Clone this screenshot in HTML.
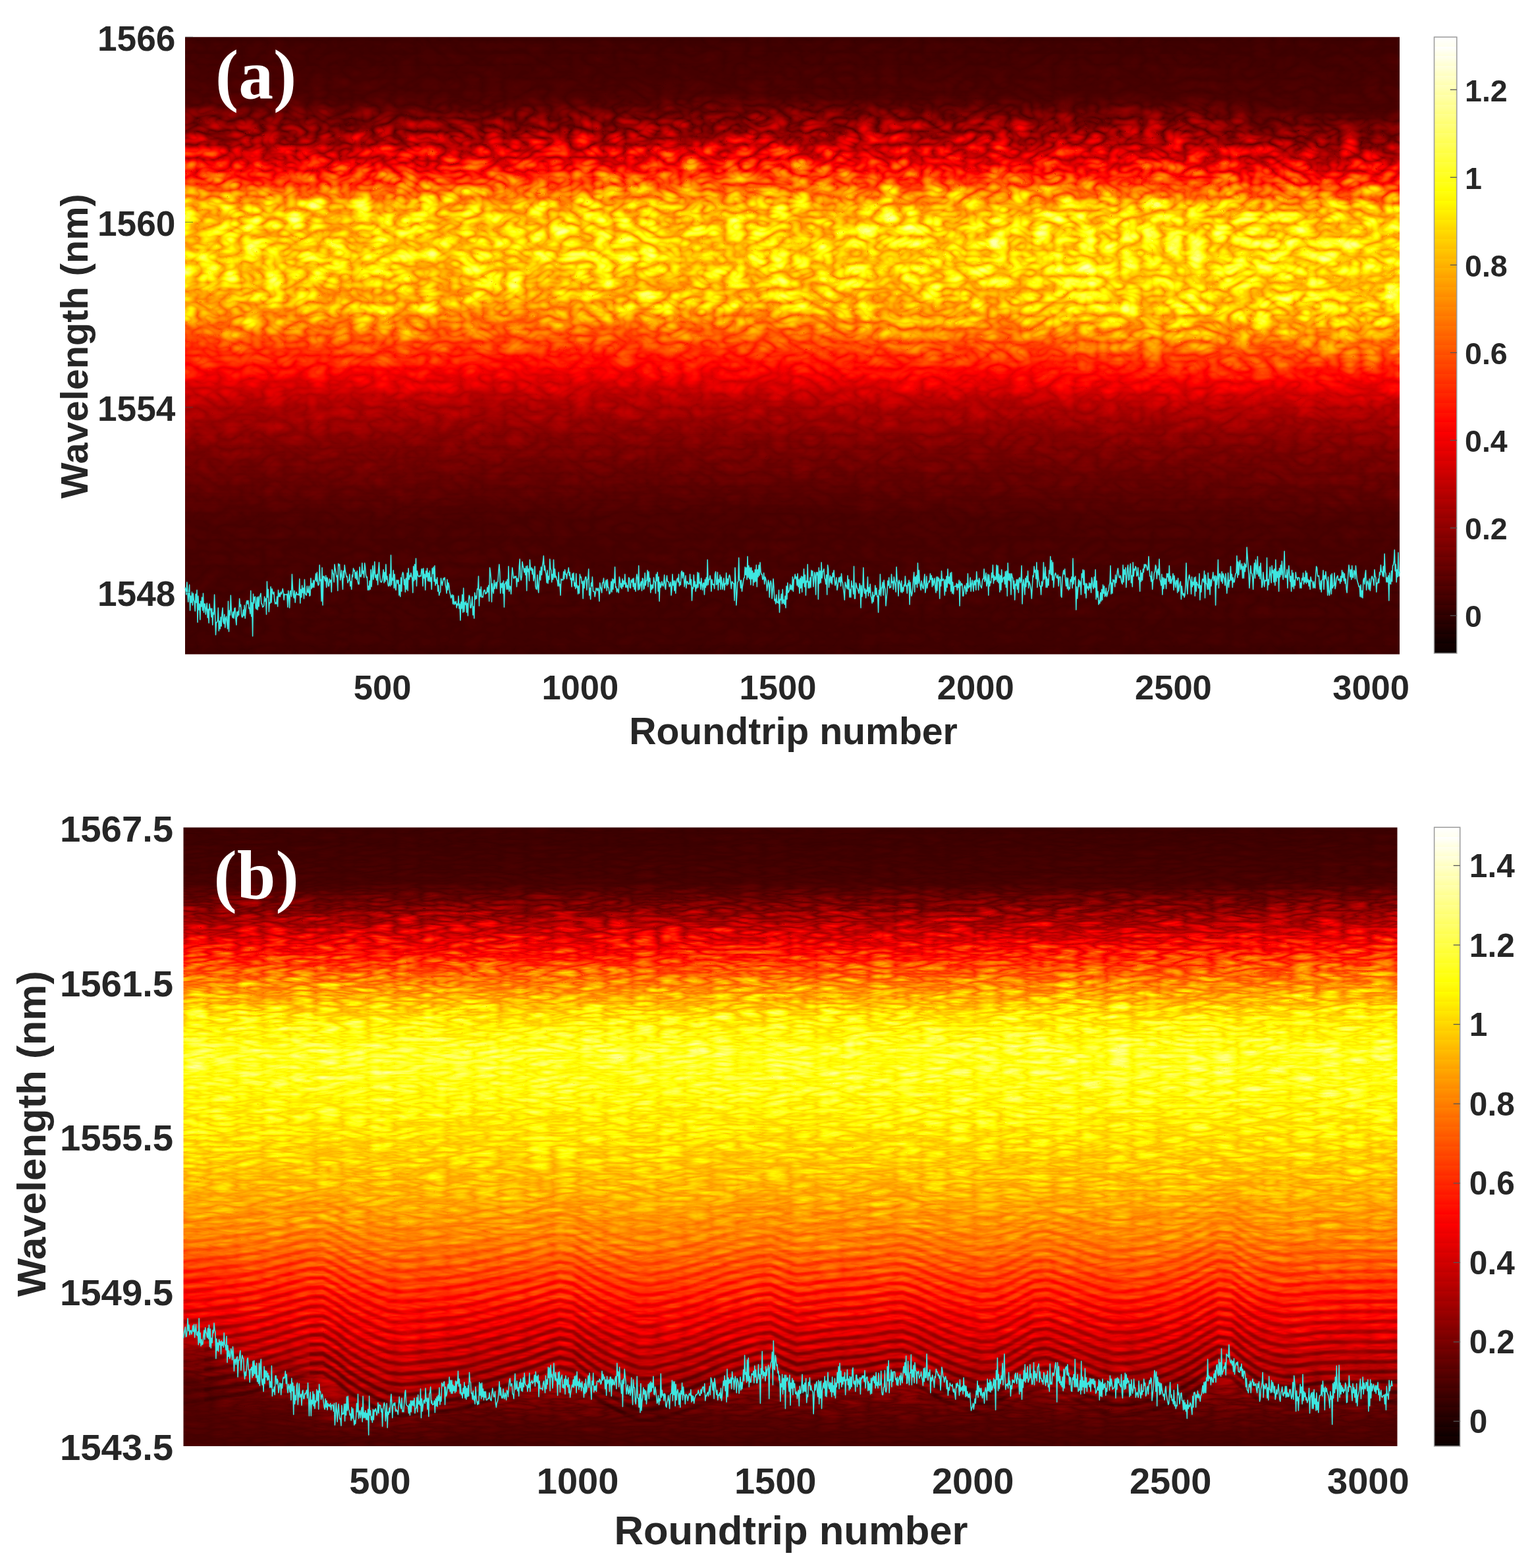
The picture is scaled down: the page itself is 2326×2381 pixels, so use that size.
<!DOCTYPE html><html><head><meta charset="utf-8"><title>Figure</title><style>html,body{margin:0;padding:0;background:#fff;}body{width:2326px;height:2381px;overflow:hidden;}svg{display:block;}</style></head><body><svg width="2326" height="2381" viewBox="0 0 2326 2381"><defs><linearGradient id="ag0" x2="0" y2="1"><stop offset="0.000" stop-color="#170300"/><stop offset="0.100" stop-color="#1c0500"/><stop offset="0.156" stop-color="#383300"/><stop offset="0.212" stop-color="#614200"/><stop offset="0.271" stop-color="#a74200"/><stop offset="0.356" stop-color="#b13d00"/><stop offset="0.441" stop-color="#a23d00"/><stop offset="0.543" stop-color="#5e1700"/><stop offset="0.598" stop-color="#410f00"/><stop offset="0.666" stop-color="#2f0a00"/><stop offset="0.783" stop-color="#1c0400"/><stop offset="1.000" stop-color="#170300"/></linearGradient><linearGradient id="ag1" x2="0" y2="1"><stop offset="0.000" stop-color="#170300"/><stop offset="0.102" stop-color="#1c0500"/><stop offset="0.157" stop-color="#383300"/><stop offset="0.212" stop-color="#614200"/><stop offset="0.273" stop-color="#a74200"/><stop offset="0.356" stop-color="#b13d00"/><stop offset="0.439" stop-color="#a23d00"/><stop offset="0.543" stop-color="#5e1700"/><stop offset="0.598" stop-color="#410f00"/><stop offset="0.666" stop-color="#2f0a00"/><stop offset="0.783" stop-color="#1c0400"/><stop offset="1.000" stop-color="#170300"/></linearGradient><linearGradient id="ag2" x2="0" y2="1"><stop offset="0.000" stop-color="#170300"/><stop offset="0.100" stop-color="#1c0500"/><stop offset="0.153" stop-color="#383300"/><stop offset="0.207" stop-color="#614200"/><stop offset="0.273" stop-color="#a74200"/><stop offset="0.353" stop-color="#b13d00"/><stop offset="0.433" stop-color="#a23d00"/><stop offset="0.538" stop-color="#5e1700"/><stop offset="0.591" stop-color="#410f00"/><stop offset="0.657" stop-color="#2f0a00"/><stop offset="0.778" stop-color="#1c0400"/><stop offset="1.000" stop-color="#170300"/></linearGradient><linearGradient id="ag3" x2="0" y2="1"><stop offset="0.000" stop-color="#170300"/><stop offset="0.095" stop-color="#1c0500"/><stop offset="0.148" stop-color="#383300"/><stop offset="0.201" stop-color="#614200"/><stop offset="0.276" stop-color="#a74200"/><stop offset="0.354" stop-color="#b13d00"/><stop offset="0.433" stop-color="#a23d00"/><stop offset="0.540" stop-color="#5e1700"/><stop offset="0.592" stop-color="#410f00"/><stop offset="0.655" stop-color="#2f0a00"/><stop offset="0.772" stop-color="#1c0400"/><stop offset="1.000" stop-color="#170300"/></linearGradient><linearGradient id="ag4" x2="0" y2="1"><stop offset="0.000" stop-color="#170300"/><stop offset="0.098" stop-color="#1c0500"/><stop offset="0.151" stop-color="#383300"/><stop offset="0.205" stop-color="#614200"/><stop offset="0.279" stop-color="#aa4200"/><stop offset="0.361" stop-color="#b43d00"/><stop offset="0.444" stop-color="#a43d00"/><stop offset="0.548" stop-color="#5e1700"/><stop offset="0.597" stop-color="#410f00"/><stop offset="0.657" stop-color="#2f0a00"/><stop offset="0.778" stop-color="#1c0400"/><stop offset="1.000" stop-color="#170300"/></linearGradient><linearGradient id="ag5" x2="0" y2="1"><stop offset="0.000" stop-color="#170300"/><stop offset="0.100" stop-color="#1c0500"/><stop offset="0.153" stop-color="#383300"/><stop offset="0.207" stop-color="#614200"/><stop offset="0.281" stop-color="#ac4200"/><stop offset="0.368" stop-color="#b63d00"/><stop offset="0.454" stop-color="#a73d00"/><stop offset="0.554" stop-color="#5e1700"/><stop offset="0.602" stop-color="#410f00"/><stop offset="0.660" stop-color="#2f0a00"/><stop offset="0.783" stop-color="#1c0400"/><stop offset="1.000" stop-color="#170300"/></linearGradient><linearGradient id="ag6" x2="0" y2="1"><stop offset="0.000" stop-color="#170300"/><stop offset="0.116" stop-color="#1c0500"/><stop offset="0.168" stop-color="#383300"/><stop offset="0.220" stop-color="#614200"/><stop offset="0.287" stop-color="#ac4200"/><stop offset="0.375" stop-color="#b63d00"/><stop offset="0.463" stop-color="#a73d00"/><stop offset="0.557" stop-color="#5e1700"/><stop offset="0.605" stop-color="#410f00"/><stop offset="0.663" stop-color="#2f0a00"/><stop offset="0.783" stop-color="#1c0400"/><stop offset="1.000" stop-color="#170300"/></linearGradient><linearGradient id="ag7" x2="0" y2="1"><stop offset="0.000" stop-color="#170300"/><stop offset="0.121" stop-color="#1c0500"/><stop offset="0.172" stop-color="#383300"/><stop offset="0.223" stop-color="#614200"/><stop offset="0.287" stop-color="#ac4200"/><stop offset="0.375" stop-color="#b63d00"/><stop offset="0.463" stop-color="#a73d00"/><stop offset="0.557" stop-color="#5e1700"/><stop offset="0.605" stop-color="#410f00"/><stop offset="0.663" stop-color="#2f0a00"/><stop offset="0.783" stop-color="#1c0400"/><stop offset="1.000" stop-color="#170300"/></linearGradient><filter id="af" filterUnits="userSpaceOnUse" x="161.0" y="56.3" width="2084.0" height="937.1" color-interpolation-filters="sRGB"><feGaussianBlur in="SourceGraphic" stdDeviation="0.6" edgeMode="duplicate" result="base"/><feColorMatrix in="base" type="matrix" values="1 0 0 0 0  1 0 0 0 0  1 0 0 0 0  0 0 0 0 1" result="V"/><feColorMatrix in="base" type="matrix" values="0 1 0 0 0  0 1 0 0 0  0 1 0 0 0  0 0 0 0 1" result="A"/><feTurbulence type="turbulence" baseFrequency="0.03 0.05" numOctaves="2" seed="5" result="n"/><feColorMatrix in="n" type="matrix" values="1.000 0 0 0 0.244  1.000 0 0 0 0.244  1.000 0 0 0 0.244  0 0 0 0 1" result="ng"/><feComposite in="A" in2="ng" operator="arithmetic" k1="1.8000" k2="-0.9000" k3="0" k4="0.5" result="t"/><feComposite in="V" in2="t" operator="arithmetic" k1="0" k2="1" k3="1" k4="-0.5" result="mod"/><feComponentTransfer in="mod"><feFuncR type="table" tableValues="0 .3333 .6667 1 1 1 1 1 1"/><feFuncG type="table" tableValues="0 0 0 0 .3333 .6667 1 1 1"/><feFuncB type="table" tableValues="0 0 0 0 0 0 0 .5 1"/></feComponentTransfer></filter><filter id="abl" filterUnits="userSpaceOnUse" x="161.0" y="56.3" width="2084.0" height="937.1" color-interpolation-filters="sRGB"><feGaussianBlur stdDeviation="30 5" edgeMode="duplicate"/></filter><clipPath id="ac"><rect x="281.0" y="56.3" width="1844.0" height="937.1"/></clipPath><linearGradient id="bg0" x2="0" y2="1"><stop offset="0.000" stop-color="#160300"/><stop offset="0.092" stop-color="#1a0500"/><stop offset="0.134" stop-color="#332400"/><stop offset="0.201" stop-color="#663300"/><stop offset="0.259" stop-color="#993300"/><stop offset="0.312" stop-color="#bb2900"/><stop offset="0.366" stop-color="#c92600"/><stop offset="0.419" stop-color="#c42400"/><stop offset="0.484" stop-color="#b82100"/><stop offset="0.576" stop-color="#a61f00"/><stop offset="0.669" stop-color="#941400"/><stop offset="0.717" stop-color="#750f00"/><stop offset="0.781" stop-color="#5e1200"/><stop offset="0.823" stop-color="#470f00"/><stop offset="0.855" stop-color="#301400"/><stop offset="0.898" stop-color="#210800"/><stop offset="1.000" stop-color="#1a0300"/></linearGradient><linearGradient id="bg1" x2="0" y2="1"><stop offset="0.000" stop-color="#160300"/><stop offset="0.092" stop-color="#1a0500"/><stop offset="0.134" stop-color="#332400"/><stop offset="0.201" stop-color="#663300"/><stop offset="0.259" stop-color="#993300"/><stop offset="0.312" stop-color="#bb2900"/><stop offset="0.366" stop-color="#c92600"/><stop offset="0.419" stop-color="#c42400"/><stop offset="0.484" stop-color="#b82100"/><stop offset="0.576" stop-color="#a61f00"/><stop offset="0.669" stop-color="#941400"/><stop offset="0.738" stop-color="#750f00"/><stop offset="0.802" stop-color="#5e1200"/><stop offset="0.855" stop-color="#4a0f00"/><stop offset="0.898" stop-color="#301400"/><stop offset="0.940" stop-color="#210800"/><stop offset="1.000" stop-color="#1a0300"/></linearGradient><linearGradient id="bg2" x2="0" y2="1"><stop offset="0.000" stop-color="#160300"/><stop offset="0.092" stop-color="#1a0500"/><stop offset="0.134" stop-color="#332400"/><stop offset="0.201" stop-color="#663300"/><stop offset="0.259" stop-color="#993300"/><stop offset="0.312" stop-color="#bb2900"/><stop offset="0.366" stop-color="#c92600"/><stop offset="0.419" stop-color="#c42400"/><stop offset="0.484" stop-color="#b82100"/><stop offset="0.576" stop-color="#a61f00"/><stop offset="0.669" stop-color="#941400"/><stop offset="0.752" stop-color="#750f00"/><stop offset="0.802" stop-color="#631200"/><stop offset="0.855" stop-color="#541200"/><stop offset="0.903" stop-color="#470f00"/><stop offset="0.946" stop-color="#2b1400"/><stop offset="0.978" stop-color="#1f0800"/><stop offset="1.000" stop-color="#1a0300"/></linearGradient><linearGradient id="bg3" x2="0" y2="1"><stop offset="0.000" stop-color="#160300"/><stop offset="0.092" stop-color="#1a0500"/><stop offset="0.134" stop-color="#332400"/><stop offset="0.201" stop-color="#663300"/><stop offset="0.259" stop-color="#993300"/><stop offset="0.312" stop-color="#bb2900"/><stop offset="0.366" stop-color="#c92600"/><stop offset="0.419" stop-color="#c42400"/><stop offset="0.484" stop-color="#b82100"/><stop offset="0.576" stop-color="#a61f00"/><stop offset="0.669" stop-color="#941400"/><stop offset="0.752" stop-color="#750f00"/><stop offset="0.791" stop-color="#631200"/><stop offset="0.834" stop-color="#541200"/><stop offset="0.882" stop-color="#470f00"/><stop offset="0.924" stop-color="#2b1400"/><stop offset="0.962" stop-color="#1f0800"/><stop offset="1.000" stop-color="#1a0300"/></linearGradient><linearGradient id="bg4" x2="0" y2="1"><stop offset="0.000" stop-color="#160300"/><stop offset="0.092" stop-color="#1a0500"/><stop offset="0.134" stop-color="#332400"/><stop offset="0.201" stop-color="#663300"/><stop offset="0.259" stop-color="#993300"/><stop offset="0.312" stop-color="#bb2900"/><stop offset="0.366" stop-color="#c92600"/><stop offset="0.419" stop-color="#c42400"/><stop offset="0.484" stop-color="#b82100"/><stop offset="0.576" stop-color="#a61f00"/><stop offset="0.669" stop-color="#941400"/><stop offset="0.752" stop-color="#750f00"/><stop offset="0.791" stop-color="#631200"/><stop offset="0.834" stop-color="#541200"/><stop offset="0.877" stop-color="#470f00"/><stop offset="0.919" stop-color="#2b1400"/><stop offset="0.962" stop-color="#1f0800"/><stop offset="1.000" stop-color="#1a0300"/></linearGradient><linearGradient id="bg5" x2="0" y2="1"><stop offset="0.000" stop-color="#160300"/><stop offset="0.092" stop-color="#1a0500"/><stop offset="0.134" stop-color="#332400"/><stop offset="0.201" stop-color="#663300"/><stop offset="0.259" stop-color="#993300"/><stop offset="0.312" stop-color="#bb2900"/><stop offset="0.366" stop-color="#c92600"/><stop offset="0.419" stop-color="#c42400"/><stop offset="0.484" stop-color="#b82100"/><stop offset="0.576" stop-color="#a61f00"/><stop offset="0.669" stop-color="#941400"/><stop offset="0.752" stop-color="#750f00"/><stop offset="0.791" stop-color="#631200"/><stop offset="0.834" stop-color="#541200"/><stop offset="0.877" stop-color="#470f00"/><stop offset="0.919" stop-color="#2b1400"/><stop offset="0.962" stop-color="#1f0800"/><stop offset="1.000" stop-color="#1a0300"/></linearGradient><linearGradient id="bg6" x2="0" y2="1"><stop offset="0.000" stop-color="#160300"/><stop offset="0.088" stop-color="#1a0500"/><stop offset="0.129" stop-color="#332400"/><stop offset="0.196" stop-color="#663300"/><stop offset="0.255" stop-color="#993300"/><stop offset="0.308" stop-color="#bb2900"/><stop offset="0.361" stop-color="#c92600"/><stop offset="0.415" stop-color="#c42400"/><stop offset="0.484" stop-color="#b82100"/><stop offset="0.576" stop-color="#a61f00"/><stop offset="0.669" stop-color="#941400"/><stop offset="0.752" stop-color="#750f00"/><stop offset="0.791" stop-color="#631200"/><stop offset="0.834" stop-color="#541200"/><stop offset="0.877" stop-color="#470f00"/><stop offset="0.919" stop-color="#2b1400"/><stop offset="0.962" stop-color="#1f0800"/><stop offset="1.000" stop-color="#1a0300"/></linearGradient><filter id="bf" filterUnits="userSpaceOnUse" x="158.5" y="1256.4" width="2083.0" height="939.6" color-interpolation-filters="sRGB"><feGaussianBlur in="SourceGraphic" stdDeviation="0.8" edgeMode="duplicate" result="base"/><feColorMatrix in="base" type="matrix" values="1 0 0 0 0  1 0 0 0 0  1 0 0 0 0  0 0 0 0 1" result="V"/><feColorMatrix in="base" type="matrix" values="0 1 0 0 0  0 1 0 0 0  0 1 0 0 0  0 0 0 0 1" result="A"/><feTurbulence type="turbulence" baseFrequency="0.025 0.12" numOctaves="2" seed="9" result="n"/><feColorMatrix in="n" type="matrix" values="1.000 0 0 0 0.244  1.000 0 0 0 0.244  1.000 0 0 0 0.244  0 0 0 0 1" result="ng"/><feComposite in="A" in2="ng" operator="arithmetic" k1="1.8000" k2="-0.9000" k3="0" k4="0.5" result="t"/><feComposite in="V" in2="t" operator="arithmetic" k1="0" k2="1" k3="1" k4="-0.5" result="mod"/><feComponentTransfer in="mod"><feFuncR type="table" tableValues="0 .3333 .6667 1 1 1 1 1 1"/><feFuncG type="table" tableValues="0 0 0 0 .3333 .6667 1 1 1"/><feFuncB type="table" tableValues="0 0 0 0 0 0 0 .5 1"/></feComponentTransfer></filter><filter id="bbl" filterUnits="userSpaceOnUse" x="158.5" y="1256.4" width="2083.0" height="939.6" color-interpolation-filters="sRGB"><feGaussianBlur stdDeviation="30 4" edgeMode="duplicate"/></filter><clipPath id="bc"><rect x="278.5" y="1256.4" width="1843.0" height="939.6"/></clipPath><linearGradient id="cbA" x1="0" y1="56.3" x2="0" y2="992.0" gradientUnits="userSpaceOnUse"><stop offset="0.0000" stop-color="#ffffff"/><stop offset="0.0156" stop-color="#ffffef"/><stop offset="0.0156" stop-color="#ffffff"/><stop offset="0.0312" stop-color="#ffffdf"/><stop offset="0.0312" stop-color="#ffffef"/><stop offset="0.0469" stop-color="#ffffcf"/><stop offset="0.0469" stop-color="#ffffdf"/><stop offset="0.0625" stop-color="#ffffbf"/><stop offset="0.0625" stop-color="#ffffcf"/><stop offset="0.0781" stop-color="#ffffaf"/><stop offset="0.0781" stop-color="#ffffbf"/><stop offset="0.0938" stop-color="#ffff9f"/><stop offset="0.0938" stop-color="#ffffaf"/><stop offset="0.1094" stop-color="#ffff8f"/><stop offset="0.1094" stop-color="#ffff9f"/><stop offset="0.1250" stop-color="#ffff80"/><stop offset="0.1250" stop-color="#ffff8f"/><stop offset="0.1406" stop-color="#ffff70"/><stop offset="0.1406" stop-color="#ffff80"/><stop offset="0.1562" stop-color="#ffff60"/><stop offset="0.1562" stop-color="#ffff70"/><stop offset="0.1719" stop-color="#ffff50"/><stop offset="0.1719" stop-color="#ffff60"/><stop offset="0.1875" stop-color="#ffff40"/><stop offset="0.1875" stop-color="#ffff50"/><stop offset="0.2031" stop-color="#ffff30"/><stop offset="0.2031" stop-color="#ffff40"/><stop offset="0.2188" stop-color="#ffff20"/><stop offset="0.2188" stop-color="#ffff30"/><stop offset="0.2344" stop-color="#ffff10"/><stop offset="0.2344" stop-color="#ffff20"/><stop offset="0.2500" stop-color="#ffff00"/><stop offset="0.2500" stop-color="#ffff10"/><stop offset="0.2656" stop-color="#fff400"/><stop offset="0.2656" stop-color="#ffff00"/><stop offset="0.2812" stop-color="#ffea00"/><stop offset="0.2812" stop-color="#fff400"/><stop offset="0.2969" stop-color="#ffdf00"/><stop offset="0.2969" stop-color="#ffea00"/><stop offset="0.3125" stop-color="#ffd400"/><stop offset="0.3125" stop-color="#ffdf00"/><stop offset="0.3281" stop-color="#ffca00"/><stop offset="0.3281" stop-color="#ffd400"/><stop offset="0.3438" stop-color="#ffbf00"/><stop offset="0.3438" stop-color="#ffca00"/><stop offset="0.3594" stop-color="#ffb500"/><stop offset="0.3594" stop-color="#ffbf00"/><stop offset="0.3750" stop-color="#ffaa00"/><stop offset="0.3750" stop-color="#ffb500"/><stop offset="0.3906" stop-color="#ff9f00"/><stop offset="0.3906" stop-color="#ffaa00"/><stop offset="0.4062" stop-color="#ff9500"/><stop offset="0.4062" stop-color="#ff9f00"/><stop offset="0.4219" stop-color="#ff8a00"/><stop offset="0.4219" stop-color="#ff9500"/><stop offset="0.4375" stop-color="#ff8000"/><stop offset="0.4375" stop-color="#ff8a00"/><stop offset="0.4531" stop-color="#ff7500"/><stop offset="0.4531" stop-color="#ff8000"/><stop offset="0.4688" stop-color="#ff6a00"/><stop offset="0.4688" stop-color="#ff7500"/><stop offset="0.4844" stop-color="#ff6000"/><stop offset="0.4844" stop-color="#ff6a00"/><stop offset="0.5000" stop-color="#ff5500"/><stop offset="0.5000" stop-color="#ff6000"/><stop offset="0.5156" stop-color="#ff4a00"/><stop offset="0.5156" stop-color="#ff5500"/><stop offset="0.5312" stop-color="#ff4000"/><stop offset="0.5312" stop-color="#ff4a00"/><stop offset="0.5469" stop-color="#ff3500"/><stop offset="0.5469" stop-color="#ff4000"/><stop offset="0.5625" stop-color="#ff2a00"/><stop offset="0.5625" stop-color="#ff3500"/><stop offset="0.5781" stop-color="#ff2000"/><stop offset="0.5781" stop-color="#ff2a00"/><stop offset="0.5938" stop-color="#ff1500"/><stop offset="0.5938" stop-color="#ff2000"/><stop offset="0.6094" stop-color="#ff0b00"/><stop offset="0.6094" stop-color="#ff1500"/><stop offset="0.6250" stop-color="#ff0000"/><stop offset="0.6250" stop-color="#ff0b00"/><stop offset="0.6406" stop-color="#f40000"/><stop offset="0.6406" stop-color="#ff0000"/><stop offset="0.6562" stop-color="#ea0000"/><stop offset="0.6562" stop-color="#f40000"/><stop offset="0.6719" stop-color="#df0000"/><stop offset="0.6719" stop-color="#ea0000"/><stop offset="0.6875" stop-color="#d40000"/><stop offset="0.6875" stop-color="#df0000"/><stop offset="0.7031" stop-color="#ca0000"/><stop offset="0.7031" stop-color="#d40000"/><stop offset="0.7188" stop-color="#bf0000"/><stop offset="0.7188" stop-color="#ca0000"/><stop offset="0.7344" stop-color="#b50000"/><stop offset="0.7344" stop-color="#bf0000"/><stop offset="0.7500" stop-color="#aa0000"/><stop offset="0.7500" stop-color="#b50000"/><stop offset="0.7656" stop-color="#9f0000"/><stop offset="0.7656" stop-color="#aa0000"/><stop offset="0.7812" stop-color="#950000"/><stop offset="0.7812" stop-color="#9f0000"/><stop offset="0.7969" stop-color="#8a0000"/><stop offset="0.7969" stop-color="#950000"/><stop offset="0.8125" stop-color="#800000"/><stop offset="0.8125" stop-color="#8a0000"/><stop offset="0.8281" stop-color="#750000"/><stop offset="0.8281" stop-color="#800000"/><stop offset="0.8438" stop-color="#6a0000"/><stop offset="0.8438" stop-color="#750000"/><stop offset="0.8594" stop-color="#600000"/><stop offset="0.8594" stop-color="#6a0000"/><stop offset="0.8750" stop-color="#550000"/><stop offset="0.8750" stop-color="#600000"/><stop offset="0.8906" stop-color="#4a0000"/><stop offset="0.8906" stop-color="#550000"/><stop offset="0.9062" stop-color="#400000"/><stop offset="0.9062" stop-color="#4a0000"/><stop offset="0.9219" stop-color="#350000"/><stop offset="0.9219" stop-color="#400000"/><stop offset="0.9375" stop-color="#2a0000"/><stop offset="0.9375" stop-color="#350000"/><stop offset="0.9531" stop-color="#200000"/><stop offset="0.9531" stop-color="#2a0000"/><stop offset="0.9688" stop-color="#150000"/><stop offset="0.9688" stop-color="#200000"/><stop offset="0.9844" stop-color="#0b0000"/><stop offset="0.9844" stop-color="#150000"/><stop offset="1.0000" stop-color="#0b0000"/></linearGradient><linearGradient id="cbB" x1="0" y1="1256.3" x2="0" y2="2196.0" gradientUnits="userSpaceOnUse"><stop offset="0.0000" stop-color="#ffffff"/><stop offset="0.0156" stop-color="#ffffef"/><stop offset="0.0156" stop-color="#ffffff"/><stop offset="0.0312" stop-color="#ffffdf"/><stop offset="0.0312" stop-color="#ffffef"/><stop offset="0.0469" stop-color="#ffffcf"/><stop offset="0.0469" stop-color="#ffffdf"/><stop offset="0.0625" stop-color="#ffffbf"/><stop offset="0.0625" stop-color="#ffffcf"/><stop offset="0.0781" stop-color="#ffffaf"/><stop offset="0.0781" stop-color="#ffffbf"/><stop offset="0.0938" stop-color="#ffff9f"/><stop offset="0.0938" stop-color="#ffffaf"/><stop offset="0.1094" stop-color="#ffff8f"/><stop offset="0.1094" stop-color="#ffff9f"/><stop offset="0.1250" stop-color="#ffff80"/><stop offset="0.1250" stop-color="#ffff8f"/><stop offset="0.1406" stop-color="#ffff70"/><stop offset="0.1406" stop-color="#ffff80"/><stop offset="0.1562" stop-color="#ffff60"/><stop offset="0.1562" stop-color="#ffff70"/><stop offset="0.1719" stop-color="#ffff50"/><stop offset="0.1719" stop-color="#ffff60"/><stop offset="0.1875" stop-color="#ffff40"/><stop offset="0.1875" stop-color="#ffff50"/><stop offset="0.2031" stop-color="#ffff30"/><stop offset="0.2031" stop-color="#ffff40"/><stop offset="0.2188" stop-color="#ffff20"/><stop offset="0.2188" stop-color="#ffff30"/><stop offset="0.2344" stop-color="#ffff10"/><stop offset="0.2344" stop-color="#ffff20"/><stop offset="0.2500" stop-color="#ffff00"/><stop offset="0.2500" stop-color="#ffff10"/><stop offset="0.2656" stop-color="#fff400"/><stop offset="0.2656" stop-color="#ffff00"/><stop offset="0.2812" stop-color="#ffea00"/><stop offset="0.2812" stop-color="#fff400"/><stop offset="0.2969" stop-color="#ffdf00"/><stop offset="0.2969" stop-color="#ffea00"/><stop offset="0.3125" stop-color="#ffd400"/><stop offset="0.3125" stop-color="#ffdf00"/><stop offset="0.3281" stop-color="#ffca00"/><stop offset="0.3281" stop-color="#ffd400"/><stop offset="0.3438" stop-color="#ffbf00"/><stop offset="0.3438" stop-color="#ffca00"/><stop offset="0.3594" stop-color="#ffb500"/><stop offset="0.3594" stop-color="#ffbf00"/><stop offset="0.3750" stop-color="#ffaa00"/><stop offset="0.3750" stop-color="#ffb500"/><stop offset="0.3906" stop-color="#ff9f00"/><stop offset="0.3906" stop-color="#ffaa00"/><stop offset="0.4062" stop-color="#ff9500"/><stop offset="0.4062" stop-color="#ff9f00"/><stop offset="0.4219" stop-color="#ff8a00"/><stop offset="0.4219" stop-color="#ff9500"/><stop offset="0.4375" stop-color="#ff8000"/><stop offset="0.4375" stop-color="#ff8a00"/><stop offset="0.4531" stop-color="#ff7500"/><stop offset="0.4531" stop-color="#ff8000"/><stop offset="0.4688" stop-color="#ff6a00"/><stop offset="0.4688" stop-color="#ff7500"/><stop offset="0.4844" stop-color="#ff6000"/><stop offset="0.4844" stop-color="#ff6a00"/><stop offset="0.5000" stop-color="#ff5500"/><stop offset="0.5000" stop-color="#ff6000"/><stop offset="0.5156" stop-color="#ff4a00"/><stop offset="0.5156" stop-color="#ff5500"/><stop offset="0.5312" stop-color="#ff4000"/><stop offset="0.5312" stop-color="#ff4a00"/><stop offset="0.5469" stop-color="#ff3500"/><stop offset="0.5469" stop-color="#ff4000"/><stop offset="0.5625" stop-color="#ff2a00"/><stop offset="0.5625" stop-color="#ff3500"/><stop offset="0.5781" stop-color="#ff2000"/><stop offset="0.5781" stop-color="#ff2a00"/><stop offset="0.5938" stop-color="#ff1500"/><stop offset="0.5938" stop-color="#ff2000"/><stop offset="0.6094" stop-color="#ff0b00"/><stop offset="0.6094" stop-color="#ff1500"/><stop offset="0.6250" stop-color="#ff0000"/><stop offset="0.6250" stop-color="#ff0b00"/><stop offset="0.6406" stop-color="#f40000"/><stop offset="0.6406" stop-color="#ff0000"/><stop offset="0.6562" stop-color="#ea0000"/><stop offset="0.6562" stop-color="#f40000"/><stop offset="0.6719" stop-color="#df0000"/><stop offset="0.6719" stop-color="#ea0000"/><stop offset="0.6875" stop-color="#d40000"/><stop offset="0.6875" stop-color="#df0000"/><stop offset="0.7031" stop-color="#ca0000"/><stop offset="0.7031" stop-color="#d40000"/><stop offset="0.7188" stop-color="#bf0000"/><stop offset="0.7188" stop-color="#ca0000"/><stop offset="0.7344" stop-color="#b50000"/><stop offset="0.7344" stop-color="#bf0000"/><stop offset="0.7500" stop-color="#aa0000"/><stop offset="0.7500" stop-color="#b50000"/><stop offset="0.7656" stop-color="#9f0000"/><stop offset="0.7656" stop-color="#aa0000"/><stop offset="0.7812" stop-color="#950000"/><stop offset="0.7812" stop-color="#9f0000"/><stop offset="0.7969" stop-color="#8a0000"/><stop offset="0.7969" stop-color="#950000"/><stop offset="0.8125" stop-color="#800000"/><stop offset="0.8125" stop-color="#8a0000"/><stop offset="0.8281" stop-color="#750000"/><stop offset="0.8281" stop-color="#800000"/><stop offset="0.8438" stop-color="#6a0000"/><stop offset="0.8438" stop-color="#750000"/><stop offset="0.8594" stop-color="#600000"/><stop offset="0.8594" stop-color="#6a0000"/><stop offset="0.8750" stop-color="#550000"/><stop offset="0.8750" stop-color="#600000"/><stop offset="0.8906" stop-color="#4a0000"/><stop offset="0.8906" stop-color="#550000"/><stop offset="0.9062" stop-color="#400000"/><stop offset="0.9062" stop-color="#4a0000"/><stop offset="0.9219" stop-color="#350000"/><stop offset="0.9219" stop-color="#400000"/><stop offset="0.9375" stop-color="#2a0000"/><stop offset="0.9375" stop-color="#350000"/><stop offset="0.9531" stop-color="#200000"/><stop offset="0.9531" stop-color="#2a0000"/><stop offset="0.9688" stop-color="#150000"/><stop offset="0.9688" stop-color="#200000"/><stop offset="0.9844" stop-color="#0b0000"/><stop offset="0.9844" stop-color="#150000"/><stop offset="1.0000" stop-color="#0b0000"/></linearGradient></defs><g clip-path="url(#ac)"><g filter="url(#af)"><g filter="url(#abl)"><rect x="161.0" y="56.3" width="266.1" height="937.1" fill="url(#ag0)"/><rect x="426.5" y="56.3" width="260.1" height="937.1" fill="url(#ag1)"/><rect x="686.0" y="56.3" width="289.6" height="937.1" fill="url(#ag2)"/><rect x="975.0" y="56.3" width="325.6" height="937.1" fill="url(#ag3)"/><rect x="1300.0" y="56.3" width="300.6" height="937.1" fill="url(#ag4)"/><rect x="1600.0" y="56.3" width="275.6" height="937.1" fill="url(#ag5)"/><rect x="1875.0" y="56.3" width="188.1" height="937.1" fill="url(#ag6)"/><rect x="2062.5" y="56.3" width="183.1" height="937.1" fill="url(#ag7)"/></g></g></g><polyline points="281,892 282,896 282.9,903 283.8,884 284.8,898 285.7,914 286.7,902 287.6,888 288.6,927 289.5,905 290.5,915 291.4,899 292.4,919 293.3,901 294.3,911 295.2,914 296.2,928 297.1,902 298.1,915 299,896 300,945 300.9,905 301.9,926 302.8,917 303.8,941 304.7,913 305.7,921 306.6,907 307.6,927 308.5,901 309.5,930 310.4,917 311.4,917 312.3,933 313.3,924 314.2,916 315.2,938 316.1,925 317.1,946 318,917 319,926 319.9,924 320.9,937 321.8,924 322.8,949 323.7,930 324.7,933 325.6,903 326.6,933 327.5,964 328.5,945 329.4,945 330.4,942 331.3,923 332.3,958 333.2,943 334.2,955 335.1,937 336.1,951 337,932 338,923 338.9,944 339.9,947 340.8,933 341.8,953 342.7,939 343.7,936 344.6,945 345.6,955 346.5,913 347.5,959 348.4,927 349.4,934 350.3,904 351.3,927 352.2,934 353.2,938 354.1,929 355.1,939 356,924 357,923 357.9,940 358.9,949 359.8,929 360.8,936 361.7,928 362.7,934 363.6,909 364.6,921 365.5,918 366.5,932 367.4,937 368.4,937 369.3,926 370.3,935 371.2,919 372.2,939 373.1,928 374.1,915 375,912 376,917 376.9,912 377.9,924 378.8,923 379.8,932 380.7,897 381.7,936 382.6,915 383.6,966 384.5,902 385.5,916 386.4,907 387.4,906 388.3,923 389.3,925 390.2,907 391.2,926 392.1,906 393.1,921 394,907 395,904 395.9,901 396.9,917 397.8,917 398.8,922 399.7,921 400.7,920 401.6,906 402.6,913 403.5,909 404.5,933 405.4,883 406.4,907 407.3,895 408.3,929 409.2,915 410.2,916 411.1,891 412.1,915 413,894 414,900 414.9,902 415.9,899 416.8,911 417.8,917 418.7,915 419.7,917 420.6,906 421.6,921 422.5,896 423.5,906 424.4,901 425.4,906 426.3,899 427.3,902 428.2,899 429.2,894 430.1,899 431.1,911 432,902 433,903 433.9,903 434.9,903 435.8,902 436.8,922 437.7,897 438.7,905 439.6,923 440.6,898 441.5,897 442.5,906 443.4,872 444.4,893 445.3,903 446.3,908 447.2,897 448.2,915 449.1,904 450.1,899 451,903 452,903 452.9,902 453.9,904 454.8,879 455.8,916 456.7,895 457.7,907 458.6,889 459.6,900 460.5,893 461.5,909 462.4,880 463.4,901 464.3,903 465.3,904 466.2,890 467.2,899 468.1,900 469.1,890 470,905 471,904 471.9,878 472.9,894 473.8,886 474.8,892 475.7,881 476.7,892 477.6,882 478.6,881 479.5,871 480.5,883 481.4,869 482.4,886 483.3,889 484.3,887 485.2,858 486.2,882 487.1,880 488.1,913 489,862 490,919 490.9,875 491.9,875 492.8,878 493.8,882 494.7,874 495.7,892 496.6,877 497.6,880 498.5,890 499.5,890 500.4,879 501.4,884 502.3,881 503.3,899 504.2,865 505.2,870 506.1,872 507.1,884 508,857 509,864 509.9,869 510.9,876 511.8,874 512.8,897 513.7,856 514.7,859 515.6,857 516.6,881 517.5,875 518.5,866 519.4,879 520.4,895 521.3,867 522.3,877 523.2,858 524.2,867 525.1,871 526.1,876 527,875 528,885 528.9,882 529.9,881 530.8,872 531.8,890 532.7,883 533.7,895 534.6,873 535.6,876 536.5,863 537.5,867 538.4,866 539.4,878 540.3,869 541.3,880 542.2,867 543.2,883 544.1,887 545.1,887 546,861 547,875 547.9,876 548.9,872 549.8,855 550.8,871 551.7,867 552.7,877 553.6,855 554.6,861 555.5,873 556.5,877 557.4,876 558.4,896 559.3,890 560.3,896 561.2,882 562.2,895 563.1,865 564.1,891 565,875 566,859 566.9,880 567.9,870 568.8,853 569.8,877 570.7,873 571.7,881 572.6,872 573.6,888 574.5,866 575.5,854 576.4,872 577.4,882 578.3,884 579.3,884 580.2,881 581.2,874 582.1,865 583.1,885 584,869 585,883 585.9,857 586.9,880 587.8,875 588.8,886 589.7,890 590.7,889 591.6,872 592.6,890 593.5,843 594.5,888 595.4,878 596.4,881 597.3,866 598.3,893 599.2,872 600.2,892 601.1,896 602.1,881 603,881 604,886 604.9,881 605.9,904 606.8,888 607.8,906 608.7,877 609.7,898 610.6,873 611.6,869 612.5,872 613.5,888 614.4,880 615.4,899 616.3,878 617.3,895 618.2,870 619.2,897 620.1,863 621.1,880 622,874 623,876 623.9,870 624.9,875 625.8,878 626.8,900 627.7,860 628.7,882 629.6,857 630.6,880 631.5,848 632.5,890 633.4,867 634.4,873 635.3,875 636.3,876 637.2,874 638.2,875 639.1,875 640.1,864 641,864 642,890 642.9,863 643.9,878 644.8,872 645.8,896 646.7,867 647.7,876 648.6,863 649.6,882 650.5,870 651.5,883 652.4,867 653.4,883 654.3,877 655.3,895 656.2,863 657.2,871 658.1,861 659.1,883 660,859 661,889 661.9,880 662.9,886 663.8,877 664.8,898 665.7,889 666.7,904 667.6,900 668.6,899 669.5,878 670.5,884 671.4,889 672.4,883 673.3,878 674.3,880 675.2,877 676.2,888 677.1,892 678.1,901 679,880 680,896 680.9,885 681.9,890 682.8,899 683.8,903 684.7,908 685.7,905 686.6,903 687.6,917 688.5,904 689.5,918 690.4,914 691.4,917 692.3,913 693.3,923 694.2,917 695.2,919 696.1,905 697.1,924 698,917 699,942 699.9,914 700.9,924 701.8,903 702.8,930 703.7,893 704.7,929 705.6,915 706.6,918 707.5,913 708.5,930 709.4,916 710.4,935 711.3,911 712.3,904 713.2,906 714.2,923 715.1,923 716.1,916 717,906 718,934 718.9,921 719.9,939 720.8,900 721.8,910 722.7,905 723.7,909 724.6,894 725.6,895 726.5,875 727.5,920 728.4,895 729.4,906 730.3,891 731.3,907 732.2,906 733.2,907 734.1,899 735.1,896 736,896 737,902 737.9,900 738.9,901 739.8,892 740.8,899 741.7,889 742.7,913 743.6,862 744.6,869 745.5,879 746.5,914 747.4,886 748.4,896 749.3,901 750.3,881 751.2,894 752.2,888 753.1,884 754.1,894 755,884 756,883 756.9,868 757.9,857 758.8,868 759.8,901 760.7,886 761.7,892 762.6,885 763.6,901 764.5,882 765.5,922 766.4,887 767.4,886 768.3,883 769.3,895 770.2,880 771.2,895 772.1,860 773.1,898 774,890 775,891 775.9,902 776.9,879 777.8,862 778.8,870 779.7,878 780.7,878 781.6,875 782.6,877 783.5,875 784.5,891 785.4,878 786.4,883 787.3,883 788.3,860 789.2,849 790.2,875 791.1,881 792.1,875 793,853 794,859 794.9,863 795.9,869 796.8,863 797.8,873 798.7,860 799.7,897 800.6,859 801.6,868 802.5,864 803.5,882 804.4,850 805.4,863 806.3,866 807.3,862 808.2,872 809.2,864 810.1,882 811.1,876 812,860 813,890 813.9,894 814.9,895 815.8,873 816.8,893 817.7,900 818.7,880 819.6,867 820.6,881 821.5,861 822.5,873 823.4,860 824.4,854 825.3,844 826.3,866 827.2,859 828.2,868 829.1,872 830.1,885 831,866 832,886 832.9,875 833.9,880 834.8,849 835.8,863 836.7,866 837.7,884 838.6,872 839.6,880 840.5,850 841.5,877 842.4,864 843.4,877 844.3,875 845.3,880 846.2,882 847.2,890 848.1,869 849.1,890 850,887 851,904 851.9,879 852.9,881 853.8,880 854.8,881 855.7,868 856.7,879 857.6,865 858.6,872 859.5,872 860.5,879 861.4,870 862.4,869 863.3,862 864.3,874 865.2,869 866.2,880 867.1,878 868.1,891 869,871 870,881 870.9,870 871.9,890 872.8,885 873.8,894 874.7,871 875.7,892 876.6,889 877.6,902 878.5,890 879.5,901 880.4,872 881.4,877 882.3,876 883.3,886 884.2,883 885.2,909 886.1,882 887.1,893 888,881 889,876 889.9,876 890.9,896 891.8,880 892.8,879 893.7,864 894.7,904 895.6,893 896.6,910 897.5,885 898.5,890 899.4,876 900.4,898 901.3,898 902.3,898 903.2,906 904.2,900 905.1,893 906.1,894 907,897 908,893 908.9,896 909.9,913 910.8,885 911.8,891 912.7,895 913.7,900 914.6,885 915.6,885 916.5,878 917.5,893 918.4,893 919.4,884 920.3,881 921.3,897 922.2,880 923.2,892 924.1,892 925.1,902 926,901 927,897 927.9,883 928.9,899 929.8,879 930.8,895 931.7,880 932.7,885 933.6,861 934.6,892 935.5,891 936.5,899 937.4,894 938.4,897 939.3,900 940.3,876 941.2,880 942.2,892 943.1,886 944.1,894 945,879 946,891 946.9,882 947.9,887 948.8,872 949.8,892 950.7,885 951.7,892 952.6,889 953.6,898 954.5,877 955.5,878 956.4,892 957.4,893 958.3,881 959.3,884 960.2,879 961.2,891 962.1,878 963.1,895 964,886 965,898 965.9,880 966.9,872 967.8,878 968.8,896 969.7,859 970.7,895 971.6,891 972.6,886 973.5,883 974.5,897 975.4,878 976.4,879 977.3,895 978.3,893 979.2,870 980.2,889 981.1,882 982.1,881 983,866 984,891 984.9,868 985.9,883 986.8,878 987.8,900 988.7,888 989.7,895 990.6,888 991.6,893 992.5,877 993.5,883 994.4,884 995.4,901 996.3,872 997.3,882 998.2,869 999.2,898 1000.1,876 1001.1,913 1002,884 1003,892 1003.9,889 1004.9,883 1005.8,888 1006.8,890 1007.7,885 1008.7,873 1009.6,891 1010.6,895 1011.5,882 1012.5,874 1013.4,883 1014.4,883 1015.3,884 1016.3,891 1017.2,889 1018.2,884 1019.1,904 1020.1,894 1021,872 1022,889 1022.9,882 1023.9,897 1024.8,882 1025.8,901 1026.7,885 1027.7,880 1028.6,878 1029.6,884 1030.5,872 1031.5,890 1032.4,884 1033.4,888 1034.3,869 1035.3,867 1036.2,878 1037.2,869 1038.1,870 1039.1,891 1040,884 1041,874 1041.9,893 1042.9,883 1043.8,883 1044.8,887 1045.7,886 1046.7,887 1047.6,872 1048.6,888 1049.5,880 1050.5,912 1051.4,892 1052.4,894 1053.3,873 1054.3,891 1055.2,883 1056.2,898 1057.1,888 1058.1,893 1059,869 1060,892 1060.9,870 1061.9,886 1062.8,884 1063.8,895 1064.7,878 1065.7,888 1066.6,896 1067.6,886 1068.5,885 1069.5,903 1070.4,880 1071.4,892 1072.3,877 1073.3,889 1074.2,850 1075.2,888 1076.1,880 1077.1,880 1078,874 1079,880 1079.9,898 1080.9,880 1081.8,887 1082.8,888 1083.7,887 1084.7,894 1085.6,872 1086.6,868 1087.5,888 1088.5,887 1089.4,869 1090.4,896 1091.3,880 1092.3,884 1093.2,873 1094.2,895 1095.1,876 1096.1,885 1097,895 1098,887 1098.9,878 1099.9,896 1100.8,886 1101.8,887 1102.7,870 1103.7,889 1104.6,879 1105.6,887 1106.5,876 1107.5,873 1108.4,876 1109.4,885 1110.3,894 1111.3,883 1112.2,884 1113.2,886 1114.1,886 1115.1,912 1116,862 1117,882 1117.9,919 1118.9,903 1119.8,884 1120.8,883 1121.7,847 1122.7,881 1123.6,881 1124.6,893 1125.5,881 1126.5,898 1127.4,890 1128.4,884 1129.3,878 1130.3,877 1131.2,861 1132.2,873 1133.1,862 1134.1,880 1135,845 1136,877 1136.9,859 1137.9,879 1138.8,862 1139.8,888 1140.7,862 1141.7,879 1142.6,867 1143.6,889 1144.5,870 1145.5,884 1146.4,865 1147.4,883 1148.3,858 1149.3,891 1150.2,865 1151.2,876 1152.1,858 1153.1,874 1154,854 1155,868 1155.9,872 1156.9,872 1157.8,880 1158.8,879 1159.7,870 1160.7,887 1161.6,876 1162.6,879 1163.5,883 1164.5,897 1165.4,891 1166.4,881 1167.3,885 1168.3,907 1169.2,887 1170.2,882 1171.1,887 1172.1,909 1173,897 1174,879 1174.9,891 1175.9,912 1176.8,910 1177.8,917 1178.7,903 1179.7,915 1180.6,914 1181.6,916 1182.5,896 1183.5,930 1184.4,910 1185.4,911 1186.3,902 1187.3,917 1188.2,895 1189.2,916 1190.1,911 1191.1,918 1192,905 1193,923 1193.9,890 1194.9,910 1195.8,885 1196.8,900 1197.7,898 1198.7,896 1199.6,887 1200.6,895 1201.5,889 1202.5,896 1203.4,876 1204.4,898 1205.3,880 1206.3,878 1207.2,872 1208.2,879 1209.1,876 1210.1,889 1211,871 1212,891 1212.9,880 1213.9,901 1214.8,878 1215.8,893 1216.7,875 1217.7,899 1218.6,876 1219.6,885 1220.5,864 1221.5,891 1222.4,873 1223.4,904 1224.3,882 1225.3,884 1226.2,857 1227.2,893 1228.1,883 1229.1,893 1230,877 1231,892 1231.9,866 1232.9,874 1233.8,867 1234.8,891 1235.7,882 1236.7,869 1237.6,873 1238.6,903 1239.5,869 1240.5,873 1241.4,869 1242.4,910 1243.3,862 1244.3,886 1245.2,867 1246.2,885 1247.1,854 1248.1,878 1249,868 1250,867 1250.9,864 1251.9,878 1252.8,880 1253.8,887 1254.7,873 1255.7,903 1256.6,858 1257.6,864 1258.5,892 1259.5,881 1260.4,874 1261.4,885 1262.3,876 1263.3,887 1264.2,870 1265.2,876 1266.1,866 1267.1,880 1268,889 1269,884 1269.9,877 1270.9,896 1271.8,892 1272.8,883 1273.7,877 1274.7,884 1275.6,876 1276.6,890 1277.5,871 1278.5,883 1279.4,885 1280.4,894 1281.3,900 1282.3,911 1283.2,884 1284.2,888 1285.1,891 1286.1,894 1287,874 1288,895 1288.9,880 1289.9,907 1290.8,895 1291.8,907 1292.7,882 1293.7,891 1294.6,890 1295.6,902 1296.5,860 1297.5,909 1298.4,909 1299.4,885 1300.3,888 1301.3,893 1302.2,894 1303.2,898 1304.1,901 1305.1,886 1306,890 1307,923 1307.9,889 1308.9,906 1309.8,898 1310.8,862 1311.7,892 1312.7,901 1313.6,894 1314.6,908 1315.5,896 1316.5,898 1317.4,876 1318.4,905 1319.3,892 1320.3,900 1321.2,887 1322.2,905 1323.1,908 1324.1,916 1325,899 1326,914 1326.9,904 1327.9,905 1328.8,889 1329.8,903 1330.7,893 1331.7,906 1332.6,905 1333.6,930 1334.5,896 1335.5,903 1336.4,872 1337.4,905 1338.3,894 1339.3,891 1340.2,884 1341.2,904 1342.1,881 1343.1,891 1344,895 1345,920 1345.9,909 1346.9,899 1347.8,882 1348.8,889 1349.7,877 1350.7,893 1351.6,891 1352.6,892 1353.5,872 1354.5,885 1355.4,883 1356.4,895 1357.3,876 1358.3,883 1359.2,889 1360.2,899 1361.1,861 1362.1,882 1363,884 1364,905 1364.9,881 1365.9,884 1366.8,887 1367.8,899 1368.7,882 1369.7,900 1370.6,892 1371.6,898 1372.5,888 1373.5,890 1374.4,875 1375.4,890 1376.3,889 1377.3,901 1378.2,886 1379.2,889 1380.1,881 1381.1,918 1382,884 1383,897 1383.9,905 1384.9,901 1385.8,893 1386.8,878 1387.7,869 1388.7,899 1389.6,876 1390.6,887 1391.5,874 1392.5,892 1393.4,855 1394.4,886 1395.3,866 1396.3,883 1397.2,889 1398.2,896 1399.1,882 1400.1,888 1401,893 1402,894 1402.9,881 1403.9,872 1404.8,900 1405.8,893 1406.7,875 1407.7,893 1408.6,887 1409.6,885 1410.5,882 1411.5,884 1412.4,871 1413.4,880 1414.3,874 1415.3,891 1416.2,878 1417.2,889 1418.1,883 1419.1,878 1420,893 1421,900 1421.9,876 1422.9,897 1423.8,876 1424.8,882 1425.7,878 1426.7,909 1427.6,880 1428.6,890 1429.5,867 1430.5,882 1431.4,881 1432.4,879 1433.3,882 1434.3,904 1435.2,880 1436.2,898 1437.1,875 1438.1,892 1439,864 1440,886 1440.9,876 1441.9,887 1442.8,870 1443.8,898 1444.7,869 1445.7,901 1446.6,884 1447.6,902 1448.5,891 1449.5,890 1450.4,890 1451.4,891 1452.3,886 1453.3,896 1454.2,887 1455.2,892 1456.1,881 1457.1,920 1458,883 1459,889 1459.9,886 1460.9,887 1461.8,905 1462.8,905 1463.7,893 1464.7,889 1465.6,893 1466.6,902 1467.5,886 1468.5,898 1469.4,871 1470.4,893 1471.3,890 1472.3,891 1473.2,877 1474.2,898 1475.1,888 1476.1,881 1477,887 1478,898 1478.9,882 1479.9,888 1480.8,881 1481.8,896 1482.7,868 1483.7,883 1484.6,881 1485.6,896 1486.5,878 1487.5,882 1488.4,889 1489.4,891 1490.3,893 1491.3,883 1492.2,879 1493.2,879 1494.1,864 1495.1,883 1496,880 1497,870 1497.9,890 1498.9,884 1499.8,872 1500.8,904 1501.7,873 1502.7,890 1503.6,883 1504.6,885 1505.5,870 1506.5,877 1507.4,858 1508.4,886 1509.3,874 1510.3,881 1511.2,876 1512.2,880 1513.1,858 1514.1,883 1515,859 1516,885 1516.9,872 1517.9,899 1518.8,874 1519.8,896 1520.7,865 1521.7,884 1522.6,880 1523.6,877 1524.5,876 1525.5,887 1526.4,868 1527.4,892 1528.3,867 1529.3,905 1530.2,855 1531.2,881 1532.1,871 1533.1,882 1534,871 1535,903 1535.9,871 1536.9,876 1537.8,878 1538.8,894 1539.7,882 1540.7,911 1541.6,887 1542.6,889 1543.5,880 1544.5,895 1545.4,880 1546.4,900 1547.3,878 1548.3,877 1549.2,885 1550.2,881 1551.1,859 1552.1,917 1553,890 1554,880 1554.9,889 1555.9,903 1556.8,878 1557.8,891 1558.7,875 1559.7,884 1560.6,867 1561.6,893 1562.5,883 1563.5,886 1564.4,890 1565.4,896 1566.3,909 1567.3,890 1568.2,874 1569.2,876 1570.1,860 1571.1,869 1572,866 1573,879 1573.9,854 1574.9,892 1575.8,866 1576.8,878 1577.7,884 1578.7,890 1579.6,890 1580.6,903 1581.5,883 1582.5,890 1583.4,884 1584.4,854 1585.3,880 1586.3,877 1587.2,861 1588.2,892 1589.1,876 1590.1,892 1591,879 1592,889 1592.9,866 1593.9,871 1594.8,845 1595.8,873 1596.7,851 1597.7,881 1598.6,854 1599.6,892 1600.5,880 1601.5,873 1602.4,870 1603.4,873 1604.3,877 1605.3,878 1606.2,873 1607.2,890 1608.1,876 1609.1,876 1610,876 1611,905 1611.9,907 1612.9,879 1613.8,872 1614.8,866 1615.7,872 1616.7,864 1617.6,881 1618.6,890 1619.5,877 1620.5,894 1621.4,878 1622.4,896 1623.3,892 1624.3,894 1625.2,880 1626.2,883 1627.1,876 1628.1,893 1629,848 1630,887 1630.9,877 1631.9,880 1632.8,875 1633.8,926 1634.7,891 1635.7,909 1636.6,895 1637.6,880 1638.5,891 1639.5,882 1640.4,885 1641.4,903 1642.3,871 1643.3,877 1644.2,865 1645.2,888 1646.1,866 1647.1,901 1648,886 1649,908 1649.9,886 1650.9,893 1651.8,891 1652.8,896 1653.7,885 1654.7,893 1655.6,886 1656.6,900 1657.5,877 1658.5,883 1659.4,891 1660.4,894 1661.3,876 1662.3,892 1663.2,865 1664.2,910 1665.1,882 1666.1,907 1667,898 1668,918 1668.9,912 1669.9,916 1670.8,900 1671.8,913 1672.7,895 1673.7,911 1674.6,888 1675.6,901 1676.5,890 1677.5,906 1678.4,904 1679.4,893 1680.3,906 1681.3,903 1682.2,898 1683.2,897 1684.1,889 1685.1,885 1686,859 1687,902 1687.9,885 1688.9,901 1689.8,880 1690.8,883 1691.7,881 1692.7,891 1693.6,873 1694.6,885 1695.5,878 1696.5,867 1697.4,863 1698.4,872 1699.3,877 1700.3,877 1701.2,874 1702.2,880 1703.1,885 1704.1,887 1705,858 1706,884 1706.9,865 1707.9,872 1708.8,862 1709.8,892 1710.7,879 1711.7,863 1712.6,858 1713.6,881 1714.5,880 1715.5,863 1716.4,856 1717.4,885 1718.3,874 1719.3,891 1720.2,854 1721.2,875 1722.1,864 1723.1,866 1724,860 1725,862 1725.9,875 1726.9,873 1727.8,862 1728.8,880 1729.7,877 1730.7,898 1731.6,866 1732.6,883 1733.5,870 1734.5,881 1735.4,864 1736.4,869 1737.3,857 1738.3,862 1739.2,857 1740.2,858 1741.1,861 1742.1,866 1743,865 1744,845 1744.9,863 1745.9,875 1746.8,875 1747.8,883 1748.7,868 1749.7,895 1750.6,881 1751.6,880 1752.5,870 1753.5,868 1754.4,858 1755.4,861 1756.3,879 1757.3,868 1758.2,864 1759.2,873 1760.1,849 1761.1,880 1762,883 1763,889 1763.9,872 1764.9,903 1765.8,877 1766.8,894 1767.7,878 1768.7,887 1769.6,879 1770.6,894 1771.5,871 1772.5,876 1773.4,871 1774.4,883 1775.3,859 1776.3,886 1777.2,875 1778.2,886 1779.1,881 1780.1,878 1781,871 1782,896 1782.9,874 1783.9,885 1784.8,892 1785.8,882 1786.7,881 1787.7,900 1788.6,878 1789.6,898 1790.5,892 1791.5,886 1792.4,883 1793.4,910 1794.3,890 1795.3,901 1796.2,904 1797.2,901 1798.1,907 1799.1,903 1800,888 1801,855 1801.9,887 1802.9,902 1803.8,884 1804.8,877 1805.7,873 1806.7,879 1807.6,883 1808.6,902 1809.5,876 1810.5,891 1811.4,884 1812.4,888 1813.3,877 1814.3,905 1815.2,876 1816.2,898 1817.1,884 1818.1,888 1819,888 1820,893 1820.9,871 1821.9,911 1822.8,889 1823.8,899 1824.7,886 1825.7,879 1826.6,880 1827.6,884 1828.5,867 1829.5,908 1830.4,873 1831.4,886 1832.3,887 1833.3,895 1834.2,870 1835.2,895 1836.1,879 1837.1,903 1838,880 1839,890 1839.9,881 1840.9,877 1841.8,869 1842.8,882 1843.7,877 1844.7,874 1845.6,919 1846.6,875 1847.5,888 1848.5,878 1849.4,850 1850.4,893 1851.3,872 1852.3,871 1853.2,876 1854.2,883 1855.1,868 1856.1,886 1857,871 1858,875 1858.9,879 1859.9,889 1860.8,871 1861.8,884 1862.7,901 1863.7,888 1864.6,870 1865.6,892 1866.5,881 1867.5,882 1868.4,860 1869.4,881 1870.3,872 1871.3,892 1872.2,877 1873.2,884 1874.1,884 1875.1,876 1876,871 1877,870 1877.9,844 1878.9,877 1879.8,853 1880.8,873 1881.7,855 1882.7,851 1883.6,865 1884.6,861 1885.5,856 1886.5,878 1887.4,860 1888.4,878 1889.3,855 1890.3,868 1891.2,857 1892.2,861 1893.1,831 1894.1,846 1895,860 1896,873 1896.9,893 1897.9,877 1898.8,859 1899.8,870 1900.7,871 1901.7,877 1902.6,895 1903.6,869 1904.5,855 1905.5,878 1906.4,850 1907.4,862 1908.3,872 1909.3,845 1910.2,870 1911.2,875 1912.1,860 1913.1,879 1914,855 1915,874 1915.9,892 1916.9,888 1917.8,869 1918.8,879 1919.7,891 1920.7,881 1921.6,882 1922.6,882 1923.5,847 1924.5,896 1925.4,880 1926.4,888 1927.3,874 1928.3,861 1929.2,875 1930.2,885 1931.1,859 1932.1,870 1933,866 1934,884 1934.9,864 1935.9,889 1936.8,850 1937.8,883 1938.7,868 1939.7,877 1940.6,867 1941.6,898 1942.5,863 1943.5,876 1944.4,858 1945.4,873 1946.3,852 1947.3,871 1948.2,880 1949.2,861 1950.1,837 1951.1,877 1952,874 1953,877 1953.9,865 1954.9,893 1955.8,871 1956.8,859 1957.7,871 1958.7,883 1959.6,875 1960.6,898 1961.5,866 1962.5,891 1963.4,870 1964.4,894 1965.3,881 1966.3,889 1967.2,869 1968.2,877 1969.1,877 1970.1,881 1971,877 1972,877 1972.9,878 1973.9,893 1974.8,885 1975.8,893 1976.7,878 1977.7,881 1978.6,870 1979.6,887 1980.5,877 1981.5,884 1982.4,867 1983.4,886 1984.3,870 1985.3,884 1986.2,880 1987.2,890 1988.1,881 1989.1,895 1990,876 1991,882 1991.9,882 1992.9,885 1993.8,893 1994.8,883 1995.7,892 1996.7,893 1997.6,873 1998.6,860 1999.5,862 2000.5,875 2001.4,875 2002.4,874 2003.3,887 2004.3,895 2005.2,882 2006.2,899 2007.1,881 2008.1,880 2009,866 2010,895 2010.9,874 2011.9,879 2012.8,868 2013.8,879 2014.7,883 2015.7,904 2016.6,876 2017.6,899 2018.5,904 2019.5,895 2020.4,873 2021.4,902 2022.3,871 2023.3,893 2024.2,890 2025.2,889 2026.1,870 2027.1,894 2028,889 2029,879 2029.9,876 2030.9,874 2031.8,881 2032.8,881 2033.7,879 2034.7,886 2035.6,875 2036.6,883 2037.5,866 2038.5,877 2039.4,869 2040.4,882 2041.3,871 2042.3,886 2043.2,879 2044.2,895 2045.1,900 2046.1,884 2047,870 2048,858 2048.9,866 2049.9,876 2050.8,865 2051.8,880 2052.7,859 2053.7,877 2054.6,877 2055.6,866 2056.5,868 2057.5,879 2058.4,859 2059.4,871 2060.3,880 2061.3,884 2062.2,887 2063.2,891 2064.1,890 2065.1,906 2066,888 2067,907 2067.9,897 2068.9,908 2069.8,881 2070.8,878 2071.7,887 2072.7,872 2073.6,866 2074.6,896 2075.5,885 2076.5,882 2077.4,887 2078.4,895 2079.3,879 2080.3,897 2081.2,887 2082.2,878 2083.1,875 2084.1,878 2085,881 2086,889 2086.9,865 2087.9,875 2088.8,877 2089.8,899 2090.7,885 2091.7,886 2092.6,879 2093.6,885 2094.5,869 2095.5,873 2096.4,858 2097.4,868 2098.3,868 2099.3,875 2100.2,860 2101.2,876 2102.1,841 2103.1,868 2104,871 2105,884 2105.9,877 2106.9,884 2107.8,874 2108.8,912 2109.7,870 2110.7,886 2111.6,887 2112.6,867 2113.5,883 2114.5,859 2115.4,858 2116.4,852 2117.3,835 2118.3,867 2119.2,857 2120.2,884 2121.1,865 2122.1,876 2123,839 2124,875 2124.9,868" fill="none" stroke="#3ee6e0" stroke-width="1.60" stroke-linejoin="round"/><g clip-path="url(#bc)"><g filter="url(#bf)"><g filter="url(#bbl)"><rect x="158.5" y="1256.4" width="181.1" height="939.6" fill="url(#bg0)"/><rect x="339.0" y="1256.4" width="141.6" height="939.6" fill="url(#bg1)"/><rect x="480.0" y="1256.4" width="200.6" height="939.6" fill="url(#bg2)"/><rect x="680.0" y="1256.4" width="370.6" height="939.6" fill="url(#bg3)"/><rect x="1050.0" y="1256.4" width="450.6" height="939.6" fill="url(#bg4)"/><rect x="1500.0" y="1256.4" width="411.6" height="939.6" fill="url(#bg5)"/><rect x="1911.0" y="1256.4" width="331.1" height="939.6" fill="url(#bg6)"/></g><g fill="none" stroke="#000" stroke-width="6"><polyline points="150,1839.6 170,1839.6 190,1839.6 210,1839.6 230,1839.6 250,1839.6 270,1839.4 290,1838.4 310,1836.6" stroke-opacity="0.04"/><polyline points="310,1836.6 330,1834.7 350,1832.8 370,1830.8 390,1827.7 410,1823.7 430,1819.5 450,1815.3 470,1811.3" stroke-opacity="0.04"/><polyline points="470,1811.3 490,1810.7 510,1818.6 530,1829.0 550,1837.0 570,1844.1 590,1850.1 610,1851.7 630,1850.5" stroke-opacity="0.04"/><polyline points="630,1850.5 650,1849.0 670,1847.6 690,1845.9 710,1843.3 730,1839.6 750,1835.8 770,1831.9 790,1828.0" stroke-opacity="0.04"/><polyline points="790,1828.0 810,1823.5 830,1818.5 850,1814.5 870,1817.7 890,1827.8 910,1836.8 930,1843.8 950,1850.4" stroke-opacity="0.04"/><polyline points="950,1850.4 970,1855.8 990,1855.8 1010,1852.5 1030,1848.9 1050,1844.8 1070,1839.2 1090,1833.2 1110,1828.1" stroke-opacity="0.04"/><polyline points="1110,1828.1 1130,1823.9 1150,1819.8 1170,1818.3 1190,1825.5 1210,1831.0 1230,1829.2 1250,1826.6 1270,1825.1" stroke-opacity="0.04"/><polyline points="1270,1825.1 1290,1824.0 1310,1822.7 1330,1820.6 1350,1817.8 1370,1817.1 1390,1821.9 1410,1828.9 1430,1835.9" stroke-opacity="0.04"/><polyline points="1430,1835.9 1450,1841.7 1470,1846.3 1490,1850.0 1510,1848.9 1530,1842.7 1550,1834.6 1570,1826.3 1590,1824.6" stroke-opacity="0.04"/><polyline points="1590,1824.6 1610,1829.6 1630,1835.7 1650,1841.5 1670,1847.2 1690,1851.3 1710,1851.4 1730,1849.7 1750,1846.4" stroke-opacity="0.04"/><polyline points="1750,1846.4 1770,1841.5 1790,1836.1 1810,1829.1 1830,1820.4 1850,1813.0 1870,1815.2 1890,1826.5 1910,1835.5" stroke-opacity="0.04"/><polyline points="1910,1835.5 1930,1840.7 1950,1843.7 1970,1843.0 1990,1840.9 2010,1839.6 2030,1839.3 2050,1839.1 2070,1838.9" stroke-opacity="0.04"/><polyline points="2070,1838.9 2090,1838.7 2110,1838.5 2130,1838.4 2150,1838.2 2170,1838.0 2190,1837.8 2210,1837.7 2230,1837.7" stroke-opacity="0.04"/><polyline points="2230,1837.7 2250,1837.7" stroke-opacity="0.04"/><polyline points="150,1854.9 170,1854.9 190,1854.9 210,1854.9 230,1854.9 250,1854.9 270,1854.7 290,1853.6 310,1851.8" stroke-opacity="0.06"/><polyline points="310,1851.8 330,1849.9 350,1847.9 370,1845.8 390,1842.7 410,1838.5 430,1834.2 450,1829.9 470,1825.7" stroke-opacity="0.06"/><polyline points="470,1825.7 490,1825.1 510,1833.3 530,1843.9 550,1852.3 570,1859.6 590,1865.7 610,1867.4 630,1866.1" stroke-opacity="0.06"/><polyline points="630,1866.1 650,1864.6 670,1863.1 690,1861.4 710,1858.7 730,1854.9 750,1850.9 770,1847.0 790,1842.9" stroke-opacity="0.06"/><polyline points="790,1842.9 810,1838.3 830,1833.1 850,1829.0 870,1832.3 890,1842.7 910,1852.0 930,1859.2 950,1866.1" stroke-opacity="0.06"/><polyline points="950,1866.1 970,1871.6 990,1871.6 1010,1868.2 1030,1864.5 1050,1860.2 1070,1854.5 1090,1848.3 1110,1843.0" stroke-opacity="0.06"/><polyline points="1110,1843.0 1130,1838.7 1150,1834.5 1170,1832.9 1190,1840.3 1210,1846.1 1230,1844.2 1250,1841.5 1270,1839.9" stroke-opacity="0.06"/><polyline points="1270,1839.9 1290,1838.8 1310,1837.5 1330,1835.4 1350,1832.4 1370,1831.7 1390,1836.6 1410,1843.9 1430,1851.0" stroke-opacity="0.06"/><polyline points="1430,1851.0 1450,1857.0 1470,1861.8 1490,1865.7 1510,1864.5 1530,1858.1 1550,1849.8 1570,1841.2 1590,1839.4" stroke-opacity="0.06"/><polyline points="1590,1839.4 1610,1844.6 1630,1850.8 1650,1856.9 1670,1862.7 1690,1867.0 1710,1867.1 1730,1865.3 1750,1861.9" stroke-opacity="0.06"/><polyline points="1750,1861.9 1770,1856.9 1790,1851.3 1810,1844.1 1830,1835.1 1850,1827.4 1870,1829.7 1890,1841.4 1910,1850.7" stroke-opacity="0.06"/><polyline points="1910,1850.7 1930,1856.0 1950,1859.1 1970,1858.4 1990,1856.2 2010,1855.0 2030,1854.6 2050,1854.4 2070,1854.2" stroke-opacity="0.06"/><polyline points="2070,1854.2 2090,1854.0 2110,1853.8 2130,1853.6 2150,1853.4 2170,1853.2 2190,1853.0 2210,1852.9 2230,1852.9" stroke-opacity="0.06"/><polyline points="2230,1852.9 2250,1852.9" stroke-opacity="0.06"/><polyline points="150,1870.2 170,1870.2 190,1870.2 210,1870.2 230,1870.2 250,1870.2 270,1870.0 290,1868.9 310,1867.0" stroke-opacity="0.07"/><polyline points="310,1867.0 330,1865.0 350,1863.0 370,1860.8 390,1857.6 410,1853.3 430,1848.9 450,1844.4 470,1840.2" stroke-opacity="0.07"/><polyline points="470,1840.2 490,1839.5 510,1847.9 530,1858.9 550,1867.5 570,1875.0 590,1881.4 610,1883.0 630,1881.8" stroke-opacity="0.07"/><polyline points="630,1881.8 650,1880.2 670,1878.6 690,1876.9 710,1874.1 730,1870.2 750,1866.1 770,1862.0 790,1857.9" stroke-opacity="0.07"/><polyline points="790,1857.9 810,1853.1 830,1847.8 850,1843.5 870,1846.9 890,1857.6 910,1867.3 930,1874.7 950,1881.7" stroke-opacity="0.07"/><polyline points="950,1881.7 970,1887.4 990,1887.4 1010,1883.9 1030,1880.1 1050,1875.7 1070,1869.8 1090,1863.4 1110,1858.0" stroke-opacity="0.07"/><polyline points="1110,1858.0 1130,1853.5 1150,1849.2 1170,1847.5 1190,1855.2 1210,1861.1 1230,1859.2 1250,1856.4 1270,1854.8" stroke-opacity="0.07"/><polyline points="1270,1854.8 1290,1853.6 1310,1852.3 1330,1850.1 1350,1847.1 1370,1846.3 1390,1851.4 1410,1858.8 1430,1866.2" stroke-opacity="0.07"/><polyline points="1430,1866.2 1450,1872.4 1470,1877.3 1490,1881.3 1510,1880.1 1530,1873.5 1550,1864.9 1570,1856.0 1590,1854.2" stroke-opacity="0.07"/><polyline points="1590,1854.2 1610,1859.6 1630,1866.0 1650,1872.2 1670,1878.3 1690,1882.6 1710,1882.8 1730,1881.0 1750,1877.4" stroke-opacity="0.07"/><polyline points="1750,1877.4 1770,1872.2 1790,1866.5 1810,1859.0 1830,1849.8 1850,1841.9 1870,1844.3 1890,1856.3 1910,1865.9" stroke-opacity="0.07"/><polyline points="1910,1865.9 1930,1871.3 1950,1874.6 1970,1873.8 1990,1871.6 2010,1870.3 2030,1869.9 2050,1869.7 2070,1869.5" stroke-opacity="0.07"/><polyline points="2070,1869.5 2090,1869.3 2110,1869.1 2130,1868.9 2150,1868.7 2170,1868.5 2190,1868.3 2210,1868.2 2230,1868.2" stroke-opacity="0.07"/><polyline points="2230,1868.2 2250,1868.2" stroke-opacity="0.07"/><polyline points="150,1885.5 170,1885.5 190,1885.5 210,1885.5 230,1885.5 250,1885.5 270,1885.3 290,1884.2 310,1882.2" stroke-opacity="0.09"/><polyline points="310,1882.2 330,1880.1 350,1878.1 370,1875.9 390,1872.5 410,1868.1 430,1863.5 450,1859.0 470,1854.6" stroke-opacity="0.09"/><polyline points="470,1854.6 490,1853.9 510,1862.5 530,1873.9 550,1882.7 570,1890.5 590,1897.0 610,1898.7 630,1897.4" stroke-opacity="0.09"/><polyline points="630,1897.4 650,1895.8 670,1894.2 690,1892.4 710,1889.5 730,1885.5 750,1881.3 770,1877.1 790,1872.8" stroke-opacity="0.09"/><polyline points="790,1872.8 810,1867.9 830,1862.4 850,1858.1 870,1861.5 890,1872.6 910,1882.5 930,1890.1 950,1897.4" stroke-opacity="0.09"/><polyline points="950,1897.4 970,1903.2 990,1903.2 1010,1899.6 1030,1895.7 1050,1891.1 1070,1885.1 1090,1878.5 1110,1872.9" stroke-opacity="0.09"/><polyline points="1110,1872.9 1130,1868.3 1150,1863.9 1170,1862.2 1190,1870.1 1210,1876.1 1230,1874.2 1250,1871.3 1270,1869.6" stroke-opacity="0.09"/><polyline points="1270,1869.6 1290,1868.4 1310,1867.1 1330,1864.8 1350,1861.7 1370,1860.8 1390,1866.1 1410,1873.8 1430,1881.4" stroke-opacity="0.09"/><polyline points="1430,1881.4 1450,1887.8 1470,1892.8 1490,1896.9 1510,1895.7 1530,1888.9 1550,1880.1 1570,1870.9 1590,1869.0" stroke-opacity="0.09"/><polyline points="1590,1869.0 1610,1874.6 1630,1881.2 1650,1887.6 1670,1893.8 1690,1898.3 1710,1898.4 1730,1896.6 1750,1892.9" stroke-opacity="0.09"/><polyline points="1750,1892.9 1770,1887.6 1790,1881.7 1810,1874.0 1830,1864.5 1850,1856.4 1870,1858.8 1890,1871.2 1910,1881.1" stroke-opacity="0.09"/><polyline points="1910,1881.1 1930,1886.7 1950,1890.0 1970,1889.2 1990,1886.9 2010,1885.6 2030,1885.2 2050,1885.0 2070,1884.8" stroke-opacity="0.09"/><polyline points="2070,1884.8 2090,1884.6 2110,1884.3 2130,1884.1 2150,1883.9 2170,1883.7 2190,1883.5 2210,1883.4 2230,1883.4" stroke-opacity="0.09"/><polyline points="2230,1883.4 2250,1883.4" stroke-opacity="0.09"/><polyline points="150,1900.8 170,1900.8 190,1900.8 210,1900.8 230,1900.8 250,1900.8 270,1900.6 290,1899.4 310,1897.4" stroke-opacity="0.10"/><polyline points="310,1897.4 330,1895.3 350,1893.2 370,1890.9 390,1887.5 410,1882.9 430,1878.2 450,1873.5 470,1869.0" stroke-opacity="0.10"/><polyline points="470,1869.0 490,1868.3 510,1877.2 530,1888.8 550,1897.9 570,1905.9 590,1912.6 610,1914.4 630,1913.0" stroke-opacity="0.10"/><polyline points="630,1913.0 650,1911.4 670,1909.7 690,1907.9 710,1904.9 730,1900.8 750,1896.5 770,1892.2 790,1887.7" stroke-opacity="0.10"/><polyline points="790,1887.7 810,1882.7 830,1877.1 850,1872.6 870,1876.2 890,1887.5 910,1897.7 930,1905.5 950,1913.0" stroke-opacity="0.10"/><polyline points="950,1913.0 970,1919.0 990,1919.0 1010,1915.3 1030,1911.3 1050,1906.6 1070,1900.3 1090,1893.6 1110,1887.9" stroke-opacity="0.10"/><polyline points="1110,1887.9 1130,1883.1 1150,1878.6 1170,1876.8 1190,1884.9 1210,1891.2 1230,1889.1 1250,1886.2 1270,1884.5" stroke-opacity="0.10"/><polyline points="1270,1884.5 1290,1883.2 1310,1881.8 1330,1879.5 1350,1876.3 1370,1875.4 1390,1880.9 1410,1888.8 1430,1896.6" stroke-opacity="0.10"/><polyline points="1430,1896.6 1450,1903.1 1470,1908.3 1490,1912.5 1510,1911.3 1530,1904.3 1550,1895.2 1570,1885.8 1590,1883.9" stroke-opacity="0.10"/><polyline points="1590,1883.9 1610,1889.6 1630,1896.4 1650,1903.0 1670,1909.3 1690,1914.0 1710,1914.1 1730,1912.2 1750,1908.4" stroke-opacity="0.10"/><polyline points="1750,1908.4 1770,1902.9 1790,1896.9 1810,1889.0 1830,1879.2 1850,1870.9 1870,1873.4 1890,1886.1 1910,1896.2" stroke-opacity="0.10"/><polyline points="1910,1896.2 1930,1902.0 1950,1905.4 1970,1904.6 1990,1902.3 2010,1900.9 2030,1900.5 2050,1900.3 2070,1900.0" stroke-opacity="0.10"/><polyline points="2070,1900.0 2090,1899.8 2110,1899.6 2130,1899.4 2150,1899.2 2170,1899.0 2190,1898.8 2210,1898.7 2230,1898.6" stroke-opacity="0.10"/><polyline points="2230,1898.6 2250,1898.6" stroke-opacity="0.10"/><polyline points="150,1916.1 170,1916.1 190,1916.1 210,1916.1 230,1916.1 250,1916.1 270,1915.9 290,1914.7 310,1912.6" stroke-opacity="0.12"/><polyline points="310,1912.6 330,1910.4 350,1908.3 370,1905.9 390,1902.4 410,1897.7 430,1892.9 450,1888.0 470,1883.4" stroke-opacity="0.12"/><polyline points="470,1883.4 490,1882.7 510,1891.8 530,1903.8 550,1913.1 570,1921.4 590,1928.3 610,1930.1 630,1928.7" stroke-opacity="0.12"/><polyline points="630,1928.7 650,1927.0 670,1925.3 690,1923.4 710,1920.4 730,1916.1 750,1911.7 770,1907.2 790,1902.7" stroke-opacity="0.12"/><polyline points="790,1902.7 810,1897.5 830,1891.7 850,1887.1 870,1890.8 890,1902.4 910,1912.9 930,1921.0 950,1928.6" stroke-opacity="0.12"/><polyline points="950,1928.6 970,1934.8 990,1934.8 1010,1931.0 1030,1926.9 1050,1922.1 1070,1915.6 1090,1908.7 1110,1902.8" stroke-opacity="0.12"/><polyline points="1110,1902.8 1130,1897.9 1150,1893.3 1170,1891.4 1190,1899.8 1210,1906.2 1230,1904.1 1250,1901.1 1270,1899.3" stroke-opacity="0.12"/><polyline points="1270,1899.3 1290,1898.0 1310,1896.6 1330,1894.2 1350,1890.9 1370,1890.0 1390,1895.6 1410,1903.7 1430,1911.8" stroke-opacity="0.12"/><polyline points="1430,1911.8 1450,1918.5 1470,1923.9 1490,1928.2 1510,1926.9 1530,1919.7 1550,1910.3 1570,1900.7 1590,1898.7" stroke-opacity="0.12"/><polyline points="1590,1898.7 1610,1904.6 1630,1911.6 1650,1918.3 1670,1924.9 1690,1929.6 1710,1929.8 1730,1927.8 1750,1924.0" stroke-opacity="0.12"/><polyline points="1750,1924.0 1770,1918.3 1790,1912.1 1810,1904.0 1830,1893.9 1850,1885.3 1870,1887.9 1890,1901.0 1910,1911.4" stroke-opacity="0.12"/><polyline points="1910,1911.4 1930,1917.3 1950,1920.9 1970,1920.0 1990,1917.6 2010,1916.2 2030,1915.8 2050,1915.5 2070,1915.3" stroke-opacity="0.12"/><polyline points="2070,1915.3 2090,1915.1 2110,1914.9 2130,1914.7 2150,1914.4 2170,1914.2 2190,1914.0 2210,1913.9 2230,1913.9" stroke-opacity="0.12"/><polyline points="2230,1913.9 2250,1913.9" stroke-opacity="0.12"/><polyline points="150,1931.4 170,1931.4 190,1931.4 210,1931.4 230,1931.4 250,1931.4 270,1931.2 290,1930.0 310,1927.8" stroke-opacity="0.14"/><polyline points="310,1927.8 330,1925.6 350,1923.3 370,1920.9 390,1917.3 410,1912.5 430,1907.6 450,1902.6 470,1897.8" stroke-opacity="0.14"/><polyline points="470,1897.8 490,1897.1 510,1906.5 530,1918.8 550,1928.4 570,1936.8 590,1943.9 610,1945.7 630,1944.3" stroke-opacity="0.14"/><polyline points="630,1944.3 650,1942.6 670,1940.8 690,1938.9 710,1935.8 730,1931.4 750,1926.8 770,1922.3 790,1917.6" stroke-opacity="0.14"/><polyline points="790,1917.6 810,1912.3 830,1906.3 850,1901.6 870,1905.4 890,1917.3 910,1928.1 930,1936.4 950,1944.3" stroke-opacity="0.14"/><polyline points="950,1944.3 970,1950.6 990,1950.6 1010,1946.7 1030,1942.5 1050,1937.5 1070,1930.9 1090,1923.8 1110,1917.7" stroke-opacity="0.14"/><polyline points="1110,1917.7 1130,1912.7 1150,1907.9 1170,1906.1 1190,1914.6 1210,1921.2 1230,1919.1 1250,1916.0 1270,1914.2" stroke-opacity="0.14"/><polyline points="1270,1914.2 1290,1912.8 1310,1911.4 1330,1908.9 1350,1905.5 1370,1904.6 1390,1910.4 1410,1918.7 1430,1926.9" stroke-opacity="0.14"/><polyline points="1430,1926.9 1450,1933.8 1470,1939.4 1490,1943.8 1510,1942.5 1530,1935.1 1550,1925.5 1570,1915.6 1590,1913.5" stroke-opacity="0.14"/><polyline points="1590,1913.5 1610,1919.6 1630,1926.7 1650,1933.7 1670,1940.4 1690,1945.3 1710,1945.4 1730,1943.4 1750,1939.5" stroke-opacity="0.14"/><polyline points="1750,1939.5 1770,1933.7 1790,1927.3 1810,1918.9 1830,1908.6 1850,1899.8 1870,1902.4 1890,1915.9 1910,1926.6" stroke-opacity="0.14"/><polyline points="1910,1926.6 1930,1932.7 1950,1936.3 1970,1935.4 1990,1932.9 2010,1931.5 2030,1931.1 2050,1930.8 2070,1930.6" stroke-opacity="0.14"/><polyline points="2070,1930.6 2090,1930.4 2110,1930.1 2130,1929.9 2150,1929.7 2170,1929.5 2190,1929.2 2210,1929.1 2230,1929.1" stroke-opacity="0.14"/><polyline points="2230,1929.1 2250,1929.1" stroke-opacity="0.14"/><polyline points="150,1946.7 170,1946.7 190,1946.7 210,1946.7 230,1946.7 250,1946.7 270,1946.5 290,1945.2 310,1943.0" stroke-opacity="0.17"/><polyline points="310,1943.0 330,1940.7 350,1938.4 370,1936.0 390,1932.3 410,1927.3 430,1922.2 450,1917.1 470,1912.2" stroke-opacity="0.17"/><polyline points="470,1912.2 490,1911.5 510,1921.1 530,1933.7 550,1943.6 570,1952.2 590,1959.5 610,1961.4 630,1960.0" stroke-opacity="0.17"/><polyline points="630,1960.0 650,1958.2 670,1956.4 690,1954.4 710,1951.2 730,1946.7 750,1942.0 770,1937.3 790,1932.6" stroke-opacity="0.17"/><polyline points="790,1932.6 810,1927.1 830,1921.0 850,1916.1 870,1920.0 890,1932.3 910,1943.3 930,1951.8 950,1959.9" stroke-opacity="0.17"/><polyline points="950,1959.9 970,1966.4 990,1966.4 1010,1962.5 1030,1958.1 1050,1953.0 1070,1946.2 1090,1938.9 1110,1932.7" stroke-opacity="0.17"/><polyline points="1110,1932.7 1130,1927.5 1150,1922.6 1170,1920.7 1190,1929.5 1210,1936.3 1230,1934.1 1250,1930.9 1270,1929.0" stroke-opacity="0.17"/><polyline points="1270,1929.0 1290,1927.6 1310,1926.1 1330,1923.6 1350,1920.2 1370,1919.2 1390,1925.1 1410,1933.7 1430,1942.1" stroke-opacity="0.17"/><polyline points="1430,1942.1 1450,1949.2 1470,1954.9 1490,1959.4 1510,1958.0 1530,1950.5 1550,1940.6 1570,1930.5 1590,1928.4" stroke-opacity="0.17"/><polyline points="1590,1928.4 1610,1934.6 1630,1941.9 1650,1949.0 1670,1956.0 1690,1961.0 1710,1961.1 1730,1959.0 1750,1955.0" stroke-opacity="0.17"/><polyline points="1750,1955.0 1770,1949.0 1790,1942.5 1810,1933.9 1830,1923.3 1850,1914.3 1870,1917.0 1890,1930.8 1910,1941.7" stroke-opacity="0.17"/><polyline points="1910,1941.7 1930,1948.0 1950,1951.7 1970,1950.8 1990,1948.3 2010,1946.8 2030,1946.4 2050,1946.1 2070,1945.9" stroke-opacity="0.17"/><polyline points="2070,1945.9 2090,1945.6 2110,1945.4 2130,1945.2 2150,1944.9 2170,1944.7 2190,1944.5 2210,1944.4 2230,1944.4" stroke-opacity="0.17"/><polyline points="2230,1944.4 2250,1944.4" stroke-opacity="0.17"/><polyline points="150,1962.0 170,1962.0 190,1962.0 210,1962.0 230,1962.0 250,1962.0 270,1961.8 290,1960.5 310,1958.2" stroke-opacity="0.19"/><polyline points="310,1958.2 330,1955.9 350,1953.5 370,1951.0 390,1947.2 410,1942.1 430,1936.9 450,1931.7 470,1926.7" stroke-opacity="0.19"/><polyline points="470,1926.7 490,1925.9 510,1935.8 530,1948.7 550,1958.8 570,1967.7 590,1975.1 610,1977.1 630,1975.6" stroke-opacity="0.19"/><polyline points="630,1975.6 650,1973.8 670,1971.9 690,1969.9 710,1966.6 730,1962.0 750,1957.2 770,1952.4 790,1947.5" stroke-opacity="0.19"/><polyline points="790,1947.5 810,1941.9 830,1935.6 850,1930.6 870,1934.6 890,1947.2 910,1958.5 930,1967.3 950,1975.5" stroke-opacity="0.19"/><polyline points="950,1975.5 970,1982.2 990,1982.2 1010,1978.2 1030,1973.6 1050,1968.4 1070,1961.5 1090,1954.0 1110,1947.6" stroke-opacity="0.19"/><polyline points="1110,1947.6 1130,1942.3 1150,1937.3 1170,1935.3 1190,1944.4 1210,1951.3 1230,1949.0 1250,1945.8 1270,1943.9" stroke-opacity="0.19"/><polyline points="1270,1943.9 1290,1942.5 1310,1940.9 1330,1938.3 1350,1934.8 1370,1933.8 1390,1939.9 1410,1948.6 1430,1957.3" stroke-opacity="0.19"/><polyline points="1430,1957.3 1450,1964.6 1470,1970.4 1490,1975.0 1510,1973.6 1530,1965.9 1550,1955.8 1570,1945.3 1590,1943.2" stroke-opacity="0.19"/><polyline points="1590,1943.2 1610,1949.5 1630,1957.1 1650,1964.4 1670,1971.5 1690,1976.6 1710,1976.8 1730,1974.7 1750,1970.5" stroke-opacity="0.19"/><polyline points="1750,1970.5 1770,1964.4 1790,1957.7 1810,1948.9 1830,1938.0 1850,1928.7 1870,1931.5 1890,1945.7 1910,1956.9" stroke-opacity="0.19"/><polyline points="1910,1956.9 1930,1963.3 1950,1967.2 1970,1966.2 1990,1963.6 2010,1962.1 2030,1961.6 2050,1961.4 2070,1961.2" stroke-opacity="0.19"/><polyline points="2070,1961.2 2090,1960.9 2110,1960.7 2130,1960.4 2150,1960.2 2170,1960.0 2190,1959.7 2210,1959.6 2230,1959.6" stroke-opacity="0.19"/><polyline points="2230,1959.6 2250,1959.6" stroke-opacity="0.19"/><polyline points="150,1977.3 170,1977.3 190,1977.3 210,1977.3 230,1977.3 250,1977.3 270,1977.1 290,1975.7 310,1973.4" stroke-opacity="0.21"/><polyline points="310,1973.4 330,1971.0 350,1968.6 370,1966.0 390,1962.1 410,1956.9 430,1951.6 450,1946.2 470,1941.1" stroke-opacity="0.21"/><polyline points="470,1941.1 490,1940.3 510,1950.4 530,1963.7 550,1974.0 570,1983.1 590,1990.8 610,1992.8 630,1991.2" stroke-opacity="0.21"/><polyline points="630,1991.2 650,1989.4 670,1987.5 690,1985.4 710,1982.0 730,1977.3 750,1972.4 770,1967.5 790,1962.4" stroke-opacity="0.21"/><polyline points="790,1962.4 810,1956.7 830,1950.3 850,1945.1 870,1949.2 890,1962.1 910,1973.8 930,1982.7 950,1991.2" stroke-opacity="0.21"/><polyline points="950,1991.2 970,1998.0 990,1998.1 1010,1993.9 1030,1989.2 1050,1983.9 1070,1976.8 1090,1969.1 1110,1962.6" stroke-opacity="0.21"/><polyline points="1110,1962.6 1130,1957.1 1150,1952.0 1170,1950.0 1190,1959.2 1210,1966.3 1230,1964.0 1250,1960.7 1270,1958.7" stroke-opacity="0.21"/><polyline points="1270,1958.7 1290,1957.3 1310,1955.7 1330,1953.0 1350,1949.4 1370,1948.4 1390,1954.6 1410,1963.6 1430,1972.5" stroke-opacity="0.21"/><polyline points="1430,1972.5 1450,1979.9 1470,1985.9 1490,1990.7 1510,1989.2 1530,1981.3 1550,1970.9 1570,1960.2 1590,1958.0" stroke-opacity="0.21"/><polyline points="1590,1958.0 1610,1964.5 1630,1972.3 1650,1979.8 1670,1987.0 1690,1992.3 1710,1992.4 1730,1990.3 1750,1986.0" stroke-opacity="0.21"/><polyline points="1750,1986.0 1770,1979.7 1790,1972.9 1810,1963.8 1830,1952.7 1850,1943.2 1870,1946.0 1890,1960.6 1910,1972.1" stroke-opacity="0.21"/><polyline points="1910,1972.1 1930,1978.7 1950,1982.6 1970,1981.6 1990,1979.0 2010,1977.4 2030,1976.9 2050,1976.7 2070,1976.4" stroke-opacity="0.21"/><polyline points="2070,1976.4 2090,1976.2 2110,1975.9 2130,1975.7 2150,1975.5 2170,1975.2 2190,1975.0 2210,1974.9 2230,1974.8" stroke-opacity="0.21"/><polyline points="2230,1974.8 2250,1974.8" stroke-opacity="0.21"/><polyline points="150,1992.6 170,1992.6 190,1992.6 210,1992.6 230,1992.6 250,1992.6 270,1992.4 290,1991.0 310,1988.6" stroke-opacity="0.24"/><polyline points="310,1988.6 330,1986.2 350,1983.7 370,1981.0 390,1977.0 410,1971.7 430,1966.3 450,1960.8 470,1955.5" stroke-opacity="0.24"/><polyline points="470,1955.5 490,1954.6 510,1965.0 530,1978.6 550,1989.2 570,1998.6 590,2006.4 610,2008.5 630,2006.9" stroke-opacity="0.24"/><polyline points="630,2006.9 650,2005.0 670,2003.0 690,2000.9 710,1997.4 730,1992.6 750,1987.6 770,1982.5 790,1977.4" stroke-opacity="0.24"/><polyline points="790,1977.4 810,1971.5 830,1964.9 850,1959.7 870,1963.9 890,1977.1 910,1989.0 930,1998.1 950,2006.8" stroke-opacity="0.24"/><polyline points="950,2006.8 970,2013.8 990,2013.9 1010,2009.6 1030,2004.8 1050,1999.4 1070,1992.1 1090,1984.2 1110,1977.5" stroke-opacity="0.24"/><polyline points="1110,1977.5 1130,1971.9 1150,1966.7 1170,1964.6 1190,1974.1 1210,1981.4 1230,1979.0 1250,1975.6 1270,1973.5" stroke-opacity="0.24"/><polyline points="1270,1973.5 1290,1972.1 1310,1970.5 1330,1967.7 1350,1964.0 1370,1963.0 1390,1969.4 1410,1978.6 1430,1987.7" stroke-opacity="0.24"/><polyline points="1430,1987.7 1450,1995.3 1470,2001.4 1490,2006.3 1510,2004.8 1530,1996.7 1550,1986.1 1570,1975.1 1590,1972.9" stroke-opacity="0.24"/><polyline points="1590,1972.9 1610,1979.5 1630,1987.4 1650,1995.1 1670,2002.6 1690,2008.0 1710,2008.1 1730,2005.9 1750,2001.5" stroke-opacity="0.24"/><polyline points="1750,2001.5 1770,1995.1 1790,1988.1 1810,1978.8 1830,1967.4 1850,1957.7 1870,1960.6 1890,1975.5 1910,1987.3" stroke-opacity="0.24"/><polyline points="1910,1987.3 1930,1994.0 1950,1998.0 1970,1997.0 1990,1994.3 2010,1992.7 2030,1992.2 2050,1992.0 2070,1991.7" stroke-opacity="0.24"/><polyline points="2070,1991.7 2090,1991.5 2110,1991.2 2130,1991.0 2150,1990.7 2170,1990.5 2190,1990.2 2210,1990.1 2230,1990.1" stroke-opacity="0.24"/><polyline points="2230,1990.1 2250,1990.1" stroke-opacity="0.24"/><polyline points="150,2007.9 170,2007.9 190,2007.9 210,2007.9 230,2007.9 250,2007.9 270,2007.7 290,2006.3 310,2003.9" stroke-opacity="0.27"/><polyline points="310,2003.9 330,2001.3 350,1998.8 370,1996.1 390,1992.0 410,1986.6 430,1980.9 450,1975.3 470,1969.9" stroke-opacity="0.27"/><polyline points="470,1969.9 490,1969.0 510,1979.7 530,1993.6 550,2004.5 570,2014.0 590,2022.0 610,2024.1 630,2022.5" stroke-opacity="0.27"/><polyline points="630,2022.5 650,2020.6 670,2018.6 690,2016.4 710,2012.8 730,2007.9 750,2002.7 770,1997.6 790,1992.3" stroke-opacity="0.27"/><polyline points="790,1992.3 810,1986.3 830,1979.5 850,1974.2 870,1978.5 890,1992.0 910,2004.2 930,2013.6 950,2022.5" stroke-opacity="0.27"/><polyline points="950,2022.5 970,2029.6 990,2029.7 1010,2025.3 1030,2020.4 1050,2014.8 1070,2007.3 1090,1999.3 1110,1992.4" stroke-opacity="0.27"/><polyline points="1110,1992.4 1130,1986.7 1150,1981.3 1170,1979.2 1190,1988.9 1210,1996.4 1230,1994.0 1250,1990.5 1270,1988.4" stroke-opacity="0.27"/><polyline points="1270,1988.4 1290,1986.9 1310,1985.2 1330,1982.4 1350,1978.6 1370,1977.6 1390,1984.1 1410,1993.5 1430,2002.9" stroke-opacity="0.27"/><polyline points="1430,2002.9 1450,2010.7 1470,2016.9 1490,2021.9 1510,2020.4 1530,2012.1 1550,2001.2 1570,1990.0 1590,1987.7" stroke-opacity="0.27"/><polyline points="1590,1987.7 1610,1994.5 1630,2002.6 1650,2010.5 1670,2018.1 1690,2023.6 1710,2023.8 1730,2021.5 1750,2017.0" stroke-opacity="0.27"/><polyline points="1750,2017.0 1770,2010.5 1790,2003.2 1810,1993.8 1830,1982.1 1850,1972.1 1870,1975.1 1890,1990.4 1910,2002.4" stroke-opacity="0.27"/><polyline points="1910,2002.4 1930,2009.3 1950,2013.4 1970,2012.4 1990,2009.6 2010,2008.0 2030,2007.5 2050,2007.3 2070,2007.0" stroke-opacity="0.27"/><polyline points="2070,2007.0 2090,2006.7 2110,2006.5 2130,2006.2 2150,2006.0 2170,2005.7 2190,2005.5 2210,2005.3 2230,2005.3" stroke-opacity="0.27"/><polyline points="2230,2005.3 2250,2005.3" stroke-opacity="0.27"/><polyline points="150,2023.2 170,2023.2 190,2023.2 210,2023.2 230,2023.2 250,2023.2 270,2023.0 290,2021.5 310,2019.1" stroke-opacity="0.29"/><polyline points="310,2019.1 330,2016.5 350,2013.9 370,2011.1 390,2006.9 410,2001.4 430,1995.6 450,1989.8 470,1984.3" stroke-opacity="0.29"/><polyline points="470,1984.3 490,1983.4 510,1994.3 530,2008.6 550,2019.7 570,2029.4 590,2037.7 610,2039.8 630,2038.2" stroke-opacity="0.29"/><polyline points="630,2038.2 650,2036.1 670,2034.1 690,2031.9 710,2028.3 730,2023.2 750,2017.9 770,2012.6 790,2007.2" stroke-opacity="0.29"/><polyline points="790,2007.2 810,2001.1 830,1994.2 850,1988.7 870,1993.1 890,2006.9 910,2019.4 930,2029.0 950,2038.1" stroke-opacity="0.29"/><polyline points="950,2038.1 970,2045.4 990,2045.5 1010,2041.0 1030,2036.0 1050,2030.3 1070,2022.6 1090,2014.4 1110,2007.4" stroke-opacity="0.29"/><polyline points="1110,2007.4 1130,2001.6 1150,1996.0 1170,1993.9 1190,2003.8 1210,2011.4 1230,2008.9 1250,2005.4 1270,2003.2" stroke-opacity="0.29"/><polyline points="1270,2003.2 1290,2001.7 1310,2000.0 1330,1997.1 1350,1993.3 1370,1992.2 1390,1998.8 1410,2008.5 1430,2018.0" stroke-opacity="0.29"/><polyline points="1430,2018.0 1450,2026.0 1470,2032.4 1490,2037.5 1510,2036.0 1530,2027.5 1550,2016.4 1570,2004.9 1590,2002.5" stroke-opacity="0.29"/><polyline points="1590,2002.5 1610,2009.5 1630,2017.8 1650,2025.8 1670,2033.6 1690,2039.3 1710,2039.4 1730,2037.1 1750,2032.5" stroke-opacity="0.29"/><polyline points="1750,2032.5 1770,2025.8 1790,2018.4 1810,2008.8 1830,1996.8 1850,1986.6 1870,1989.7 1890,2005.2 1910,2017.6" stroke-opacity="0.29"/><polyline points="1910,2017.6 1930,2024.7 1950,2028.9 1970,2027.8 1990,2025.0 2010,2023.3 2030,2022.8 2050,2022.5 2070,2022.3" stroke-opacity="0.29"/><polyline points="2070,2022.3 2090,2022.0 2110,2021.7 2130,2021.5 2150,2021.2 2170,2021.0 2190,2020.7 2210,2020.6 2230,2020.6" stroke-opacity="0.29"/><polyline points="2230,2020.6 2250,2020.6" stroke-opacity="0.29"/><polyline points="150,2038.5 170,2038.5 190,2038.5 210,2038.5 230,2038.5 250,2038.5 270,2038.3 290,2036.8 310,2034.3" stroke-opacity="0.15"/><polyline points="310,2034.3 330,2031.6 350,2029.0 370,2026.1 390,2021.8 410,2016.2 430,2010.3 450,2004.4 470,1998.7" stroke-opacity="0.32"/><polyline points="470,1998.7 490,1997.8 510,2009.0 530,2023.5 550,2034.9 570,2044.9 590,2053.3 610,2055.5 630,2053.8" stroke-opacity="0.32"/><polyline points="630,2053.8 650,2051.7 670,2049.7 690,2047.4 710,2043.7 730,2038.5 750,2033.1 770,2027.7 790,2022.2" stroke-opacity="0.32"/><polyline points="790,2022.2 810,2015.9 830,2008.8 850,2003.2 870,2007.7 890,2021.9 910,2034.6 930,2044.4 950,2053.7" stroke-opacity="0.32"/><polyline points="950,2053.7 970,2061.2 990,2061.3 1010,2056.7 1030,2051.6 1050,2045.7 1070,2037.9 1090,2029.5 1110,2022.3" stroke-opacity="0.32"/><polyline points="1110,2022.3 1130,2016.4 1150,2010.7 1170,2008.5 1190,2018.7 1210,2026.5 1230,2023.9 1250,2020.3 1270,2018.1" stroke-opacity="0.32"/><polyline points="1270,2018.1 1290,2016.5 1310,2014.8 1330,2011.8 1350,2007.9 1370,2006.8 1390,2013.6 1410,2023.5 1430,2033.2" stroke-opacity="0.32"/><polyline points="1430,2033.2 1450,2041.4 1470,2047.9 1490,2053.2 1510,2051.6 1530,2042.9 1550,2031.5 1570,2019.8 1590,2017.3" stroke-opacity="0.32"/><polyline points="1590,2017.3 1610,2024.5 1630,2033.0 1650,2041.2 1670,2049.2 1690,2055.0 1710,2055.1 1730,2052.7 1750,2048.1" stroke-opacity="0.32"/><polyline points="1750,2048.1 1770,2041.2 1790,2033.6 1810,2023.7 1830,2011.5 1850,2001.1 1870,2004.2 1890,2020.1 1910,2032.8" stroke-opacity="0.32"/><polyline points="1910,2032.8 1930,2040.0 1950,2044.3 1970,2043.3 1990,2040.3 2010,2038.6 2030,2038.1 2050,2037.8 2070,2037.6" stroke-opacity="0.32"/><polyline points="2070,2037.6 2090,2037.3 2110,2037.0 2130,2036.7 2150,2036.5 2170,2036.2 2190,2036.0 2210,2035.8 2230,2035.8" stroke-opacity="0.32"/><polyline points="2230,2035.8 2250,2035.8" stroke-opacity="0.32"/><polyline points="150,2053.8 170,2053.8 190,2053.8 210,2053.8 230,2053.8 250,2053.8 270,2053.6 290,2052.0 310,2049.5" stroke-opacity="0.09"/><polyline points="310,2049.5 330,2046.8 350,2044.1 370,2041.1 390,2036.8 410,2031.0 430,2024.9 450,2018.9 470,2013.2" stroke-opacity="0.31"/><polyline points="470,2013.2 490,2012.2 510,2023.6 530,2038.5 550,2050.1 570,2060.3 590,2068.9 610,2071.2 630,2069.4" stroke-opacity="0.35"/><polyline points="630,2069.4 650,2067.3 670,2065.2 690,2062.9 710,2059.1 730,2053.8 750,2048.3 770,2042.8 790,2037.1" stroke-opacity="0.35"/><polyline points="790,2037.1 810,2030.7 830,2023.5 850,2017.7 870,2022.3 890,2036.8 910,2049.8 930,2059.9 950,2069.4" stroke-opacity="0.35"/><polyline points="950,2069.4 970,2077.0 990,2077.1 1010,2072.4 1030,2067.2 1050,2061.2 1070,2053.2 1090,2044.6 1110,2037.3" stroke-opacity="0.35"/><polyline points="1110,2037.3 1130,2031.2 1150,2025.4 1170,2023.1 1190,2033.5 1210,2041.5 1230,2038.9 1250,2035.2 1270,2032.9" stroke-opacity="0.35"/><polyline points="1270,2032.9 1290,2031.3 1310,2029.6 1330,2026.6 1350,2022.5 1370,2021.4 1390,2028.3 1410,2038.4 1430,2048.4" stroke-opacity="0.35"/><polyline points="1430,2048.4 1450,2056.8 1470,2063.4 1490,2068.8 1510,2067.2 1530,2058.3 1550,2046.6 1570,2034.7 1590,2032.2" stroke-opacity="0.35"/><polyline points="1590,2032.2 1610,2039.5 1630,2048.1 1650,2056.6 1670,2064.7 1690,2070.6 1710,2070.8 1730,2068.3 1750,2063.6" stroke-opacity="0.35"/><polyline points="1750,2063.6 1770,2056.5 1790,2048.8 1810,2038.7 1830,2026.2 1850,2015.5 1870,2018.7 1890,2035.0 1910,2048.0" stroke-opacity="0.35"/><polyline points="1910,2048.0 1930,2055.3 1950,2059.7 1970,2058.7 1990,2055.7 2010,2053.9 2030,2053.4 2050,2053.1 2070,2052.8" stroke-opacity="0.35"/><polyline points="2070,2052.8 2090,2052.6 2110,2052.3 2130,2052.0 2150,2051.7 2170,2051.5 2190,2051.2 2210,2051.1 2230,2051.0" stroke-opacity="0.35"/><polyline points="2230,2051.0 2250,2051.0" stroke-opacity="0.35"/><polyline points="150,2069.1 170,2069.1 190,2069.1 210,2069.1 230,2069.1 250,2069.1 270,2068.9 290,2067.3 310,2064.7" stroke-opacity="0.10"/><polyline points="310,2064.7 330,2061.9 350,2059.1 370,2056.1 390,2051.7 410,2045.8 430,2039.6 450,2033.5 470,2027.6" stroke-opacity="0.32"/><polyline points="470,2027.6 490,2026.6 510,2038.3 530,2053.5 550,2065.3 570,2075.8 590,2084.5 610,2086.8 630,2085.1" stroke-opacity="0.38"/><polyline points="630,2085.1 650,2082.9 670,2080.8 690,2078.4 710,2074.5 730,2069.1 750,2063.5 770,2057.8 790,2052.1" stroke-opacity="0.38"/><polyline points="790,2052.1 810,2045.5 830,2038.1 850,2032.2 870,2036.9 890,2051.7 910,2065.0 930,2075.3 950,2085.0" stroke-opacity="0.38"/><polyline points="950,2085.0 970,2092.8 990,2092.9 1010,2088.1 1030,2082.8 1050,2076.7 1070,2068.5 1090,2059.7 1110,2052.2" stroke-opacity="0.38"/><polyline points="1110,2052.2 1130,2046.0 1150,2040.1 1170,2037.8 1190,2048.4 1210,2056.5 1230,2053.9 1250,2050.0 1270,2047.8" stroke-opacity="0.38"/><polyline points="1270,2047.8 1290,2046.1 1310,2044.3 1330,2041.3 1350,2037.1 1370,2036.0 1390,2043.1 1410,2053.4 1430,2063.6" stroke-opacity="0.38"/><polyline points="1430,2063.6 1450,2072.1 1470,2078.9 1490,2084.4 1510,2082.8 1530,2073.7 1550,2061.8 1570,2049.5 1590,2047.0" stroke-opacity="0.38"/><polyline points="1590,2047.0 1610,2054.5 1630,2063.3 1650,2071.9 1670,2080.3 1690,2086.3 1710,2086.5 1730,2084.0 1750,2079.1" stroke-opacity="0.38"/><polyline points="1750,2079.1 1770,2071.9 1790,2064.0 1810,2053.7 1830,2040.9 1850,2030.0 1870,2033.3 1890,2049.9 1910,2063.1" stroke-opacity="0.38"/><polyline points="1910,2063.1 1930,2070.7 1950,2075.2 1970,2074.1 1990,2071.0 2010,2069.2 2030,2068.7 2050,2068.4 2070,2068.1" stroke-opacity="0.38"/><polyline points="2070,2068.1 2090,2067.8 2110,2067.5 2130,2067.3 2150,2067.0 2170,2066.7 2190,2066.4 2210,2066.3 2230,2066.3" stroke-opacity="0.38"/><polyline points="2230,2066.3 2250,2066.3" stroke-opacity="0.38"/><polyline points="150,2084.4 170,2084.4 190,2084.4 210,2084.4 230,2084.4 250,2084.4 270,2084.1 290,2082.6 310,2079.9" stroke-opacity="0.10"/><polyline points="310,2079.9 330,2077.1 350,2074.2 370,2071.2 390,2066.6 410,2060.6 430,2054.3 450,2048.0 470,2042.0" stroke-opacity="0.32"/><polyline points="470,2042.0 490,2041.0 510,2052.9 530,2068.4 550,2080.6 570,2091.2 590,2100.2 610,2102.5 630,2100.7" stroke-opacity="0.41"/><polyline points="630,2100.7 650,2098.5 670,2096.3 690,2093.9 710,2089.9 730,2084.4 750,2078.6 770,2072.9 790,2067.0" stroke-opacity="0.41"/><polyline points="790,2067.0 810,2060.3 830,2052.7 850,2046.8 870,2051.5 890,2066.6 910,2080.3 930,2090.7 950,2100.7" stroke-opacity="0.41"/><polyline points="950,2100.7 970,2108.6 990,2108.7 1010,2103.8 1030,2098.4 1050,2092.1 1070,2083.8 1090,2074.8 1110,2067.1" stroke-opacity="0.41"/><polyline points="1110,2067.1 1130,2060.8 1150,2054.8 1170,2052.4 1190,2063.2 1210,2071.6 1230,2068.8 1250,2064.9 1270,2062.6" stroke-opacity="0.41"/><polyline points="1270,2062.6 1290,2060.9 1310,2059.1 1330,2056.0 1350,2051.7 1370,2050.6 1390,2057.8 1410,2068.4 1430,2078.8" stroke-opacity="0.41"/><polyline points="1430,2078.8 1450,2087.5 1470,2094.5 1490,2100.0 1510,2098.4 1530,2089.1 1550,2076.9 1570,2064.4 1590,2061.8" stroke-opacity="0.41"/><polyline points="1590,2061.8 1610,2069.4 1630,2078.5 1650,2087.3 1670,2095.8 1690,2102.0 1710,2102.1 1730,2099.6 1750,2094.6" stroke-opacity="0.41"/><polyline points="1750,2094.6 1770,2087.3 1790,2079.2 1810,2068.6 1830,2055.6 1850,2044.5 1870,2047.8 1890,2064.8 1910,2078.3" stroke-opacity="0.41"/><polyline points="1910,2078.3 1930,2086.0 1950,2090.6 1970,2089.5 1990,2086.3 2010,2084.5 2030,2084.0 2050,2083.7 2070,2083.4" stroke-opacity="0.41"/><polyline points="2070,2083.4 2090,2083.1 2110,2082.8 2130,2082.5 2150,2082.2 2170,2082.0 2190,2081.7 2210,2081.5 2230,2081.5" stroke-opacity="0.41"/><polyline points="2230,2081.5 2250,2081.5" stroke-opacity="0.41"/><polyline points="150,2099.7 170,2099.7 190,2099.7 210,2099.7 230,2099.7 250,2099.7 270,2099.4 290,2097.8 310,2095.1" stroke-opacity="0.11"/><polyline points="310,2095.1 330,2092.2 350,2089.3 370,2086.2 390,2081.5 410,2075.4 430,2069.0 450,2062.6 470,2056.4" stroke-opacity="0.31"/><polyline points="470,2056.4 490,2055.4 510,2067.6 530,2083.4 550,2095.8 570,2106.7 590,2115.8 610,2118.2 630,2116.4" stroke-opacity="0.45"/><polyline points="630,2116.4 650,2114.1 670,2111.9 690,2109.4 710,2105.3 730,2099.7 750,2093.8 770,2087.9 790,2081.9" stroke-opacity="0.45"/><polyline points="790,2081.9 810,2075.1 830,2067.4 850,2061.3 870,2066.2 890,2081.6 910,2095.5 930,2106.2 950,2116.3" stroke-opacity="0.42"/><polyline points="950,2116.3 970,2124.4 990,2124.5 1010,2119.5 1030,2114.0 1050,2107.6 1070,2099.1 1090,2089.9 1110,2082.1" stroke-opacity="0.42"/><polyline points="1110,2082.1 1130,2075.6 1150,2069.4 1170,2067.0 1190,2078.1 1210,2086.6 1230,2083.8 1250,2079.8 1270,2077.5" stroke-opacity="0.45"/><polyline points="1270,2077.5 1290,2075.8 1310,2073.9 1330,2070.7 1350,2066.4 1370,2065.2 1390,2072.6 1410,2083.3 1430,2094.0" stroke-opacity="0.45"/><polyline points="1430,2094.0 1450,2102.9 1470,2110.0 1490,2115.7 1510,2114.0 1530,2104.5 1550,2092.1 1570,2079.3 1590,2076.7" stroke-opacity="0.42"/><polyline points="1590,2076.7 1610,2084.4 1630,2093.7 1650,2102.6 1670,2111.3 1690,2117.6 1710,2117.8 1730,2115.2 1750,2110.1" stroke-opacity="0.42"/><polyline points="1750,2110.1 1770,2102.6 1790,2094.4 1810,2083.6 1830,2070.3 1850,2058.9 1870,2062.4 1890,2079.7 1910,2093.5" stroke-opacity="0.45"/><polyline points="1910,2093.5 1930,2101.3 1950,2106.0 1970,2104.9 1990,2101.7 2010,2099.8 2030,2099.3 2050,2099.0 2070,2098.7" stroke-opacity="0.45"/><polyline points="2070,2098.7 2090,2098.4 2110,2098.1 2130,2097.8 2150,2097.5 2170,2097.2 2190,2096.9 2210,2096.8 2230,2096.8" stroke-opacity="0.45"/><polyline points="2230,2096.8 2250,2096.8" stroke-opacity="0.45"/><polyline points="150,2115.0 170,2115.0 190,2115.0 210,2115.0 230,2115.0 250,2115.0 270,2114.7 290,2113.1 310,2110.3" stroke-opacity="0.12"/><polyline points="310,2110.3 330,2107.4 350,2104.4 370,2101.2 390,2096.5 410,2090.2 430,2083.6 450,2077.1 470,2070.8" stroke-opacity="0.30"/><polyline points="470,2070.8 490,2069.8 510,2082.2 530,2098.4 550,2111.0 570,2122.1 590,2131.4 610,2133.9 630,2132.0" stroke-opacity="0.48"/><polyline points="630,2132.0 650,2129.7 670,2127.4 690,2124.9 710,2120.7 730,2115.0 750,2109.0 770,2103.0 790,2096.9" stroke-opacity="0.44"/><polyline points="790,2096.9 810,2089.9 830,2082.0 850,2075.8 870,2080.8 890,2096.5 910,2110.7 930,2121.6 950,2131.9" stroke-opacity="0.38"/><polyline points="950,2131.9 970,2140.2 990,2140.3 1010,2135.2 1030,2129.6 1050,2123.1 1070,2114.4 1090,2105.0 1110,2097.0" stroke-opacity="0.35"/><polyline points="1110,2097.0 1130,2090.4 1150,2084.1 1170,2081.7 1190,2092.9 1210,2101.6 1230,2098.8 1250,2094.7 1270,2092.3" stroke-opacity="0.48"/><polyline points="1270,2092.3 1290,2090.6 1310,2088.6 1330,2085.4 1350,2081.0 1370,2079.8 1390,2087.3 1410,2098.3 1430,2109.1" stroke-opacity="0.46"/><polyline points="1430,2109.1 1450,2118.2 1470,2125.5 1490,2131.3 1510,2129.5 1530,2119.9 1550,2107.2 1570,2094.2 1590,2091.5" stroke-opacity="0.32"/><polyline points="1590,2091.5 1610,2099.4 1630,2108.9 1650,2118.0 1670,2126.9 1690,2133.3 1710,2133.5 1730,2130.8 1750,2125.6" stroke-opacity="0.26"/><polyline points="1750,2125.6 1770,2118.0 1790,2109.6 1810,2098.6 1830,2085.0 1850,2073.4 1870,2076.9 1890,2094.6 1910,2108.7" stroke-opacity="0.46"/><polyline points="1910,2108.7 1930,2116.7 1950,2121.4 1970,2120.3 1990,2117.0 2010,2115.1 2030,2114.6 2050,2114.3 2070,2113.9" stroke-opacity="0.47"/><polyline points="2070,2113.9 2090,2113.7 2110,2113.3 2130,2113.1 2150,2112.8 2170,2112.5 2190,2112.2 2210,2112.0 2230,2112.0" stroke-opacity="0.48"/><polyline points="2230,2112.0 2250,2112.0" stroke-opacity="0.48"/><polyline points="150,2130.3 170,2130.3 190,2130.3 210,2130.3 230,2130.3 250,2130.3 270,2130.0 290,2128.4 310,2125.5" stroke-opacity="0.12"/><polyline points="310,2125.5 330,2122.5 350,2119.5 370,2116.2 390,2111.4 410,2105.0 430,2098.3 450,2091.6 470,2085.2" stroke-opacity="0.27"/><polyline points="470,2085.2 490,2084.2 510,2096.8 530,2113.3 550,2126.2 570,2137.5 590,2147.1 610,2149.6 630,2147.6" stroke-opacity="0.43"/><polyline points="630,2147.6 650,2145.3 670,2143.0 690,2140.4 710,2136.2 730,2130.3 750,2124.2 770,2118.1 790,2111.8" stroke-opacity="0.29"/><polyline points="790,2111.8 810,2104.7 830,2096.7 850,2090.3 870,2095.4 890,2111.4 910,2125.9 930,2137.0 950,2147.6" stroke-opacity="0.34"/><polyline points="950,2147.6 970,2156.0 990,2156.1 1010,2150.9 1030,2145.1 1050,2138.5 1070,2129.6 1090,2120.1 1110,2112.0" stroke-opacity="0.20"/><polyline points="1110,2112.0 1130,2105.2 1150,2098.8 1170,2096.3 1190,2107.8 1210,2116.7 1230,2113.8 1250,2109.6 1270,2107.2" stroke-opacity="0.38"/><polyline points="1270,2107.2 1290,2105.4 1310,2103.4 1330,2100.1 1350,2095.6 1370,2094.4 1390,2102.1 1410,2113.2 1430,2124.3" stroke-opacity="0.37"/><polyline points="1430,2124.3 1450,2133.6 1470,2141.0 1490,2146.9 1510,2145.1 1530,2135.3 1550,2122.4 1570,2109.1 1590,2106.3" stroke-opacity="0.15"/><polyline points="1590,2106.3 1610,2114.4 1630,2124.0 1650,2133.4 1670,2142.4 1690,2149.0 1710,2149.1 1730,2146.4 1750,2141.1" stroke-opacity="0.14"/><polyline points="1750,2141.1 1770,2133.3 1790,2124.8 1810,2113.6 1830,2099.7 1850,2087.9 1870,2091.4 1890,2109.5 1910,2123.8" stroke-opacity="0.32"/><polyline points="1910,2123.8 1930,2132.0 1950,2136.9 1970,2135.7 1990,2132.4 2010,2130.4 2030,2129.8 2050,2129.5 2070,2129.2" stroke-opacity="0.24"/><polyline points="2070,2129.2 2090,2128.9 2110,2128.6 2130,2128.3 2150,2128.0 2170,2127.7 2190,2127.4 2210,2127.3 2230,2127.2" stroke-opacity="0.34"/><polyline points="2230,2127.2 2250,2127.2" stroke-opacity="0.36"/></g></g></g><polyline points="278.5,2032 279.4,2026 280.4,2020 281.3,2015 282.3,2030 283.2,2029 284.2,2018 285.1,2002 286.1,2021 287,2012 288,2027 288.9,2021 289.9,2020 290.8,2026 291.8,2022 292.7,2013 293.7,2022 294.6,2011 295.6,2031 296.5,2020 297.5,2011 298.4,2027 299.4,2028 300.3,2022 301.3,2042 302.2,2002 303.2,2039 304.1,2024 305.1,2044 306,2034 307,2042 307.9,2041 308.9,2028 309.8,2020 310.8,2034 311.7,2016 312.7,2023 313.6,2025 314.6,2031 315.5,2017 316.5,2033 317.4,2012 318.4,2045 319.3,2018 320.3,2047 321.2,2032 322.2,2039 323.1,2020 324.1,2024 325,2009 326,2020 326.9,2023 327.9,2063 328.8,2033 329.8,2051 330.7,2039 331.7,2052 332.6,2034 333.6,2042 334.5,2037 335.5,2056 336.4,2036 337.4,2043 338.3,2038 339.3,2046 340.2,2024 341.2,2041 342.1,2044 343.1,2050 344,2029 345,2069 345.9,2043 346.9,2060 347.8,2051 348.8,2063 349.7,2060 350.7,2048 351.6,2052 352.6,2065 353.5,2045 354.5,2058 355.4,2082 356.4,2065 357.3,2064 358.3,2072 359.2,2062 360.2,2060 361.1,2091 362.1,2065 363,2066 364,2056 364.9,2051 365.9,2081 366.8,2069 367.8,2058 368.7,2062 369.7,2063 370.6,2084 371.6,2094 372.5,2083 373.5,2089 374.4,2077 375.4,2064 376.3,2062 377.3,2080 378.2,2080 379.2,2099 380.1,2079 381.1,2080 382,2076 383,2092 383.9,2067 384.9,2089 385.8,2066 386.8,2086 387.7,2074 388.7,2092 389.6,2070 390.6,2098 391.5,2089 392.5,2101 393.4,2070 394.4,2104 395.3,2072 396.3,2064 397.2,2095 398.2,2103 399.1,2094 400.1,2113 401,2075 402,2101 402.9,2081 403.9,2091 404.8,2082 405.8,2096 406.7,2085 407.7,2095 408.6,2089 409.6,2107 410.5,2098 411.5,2107 412.4,2074 413.4,2120 414.3,2110 415.3,2113 416.2,2106 417.2,2118 418.1,2089 419.1,2089 420,2102 421,2094 421.9,2097 422.9,2115 423.8,2108 424.8,2100 425.7,2101 426.7,2118 427.6,2101 428.6,2108 429.5,2094 430.5,2091 431.4,2093 432.4,2091 433.3,2082 434.3,2101 435.2,2087 436.2,2109 437.1,2115 438.1,2102 439,2105 440,2114 440.9,2102 441.9,2126 442.8,2093 443.8,2112 444.7,2100 445.7,2148 446.6,2105 447.6,2132 448.5,2119 449.5,2126 450.4,2104 451.4,2100 452.3,2133 453.3,2118 454.2,2101 455.2,2122 456.1,2120 457.1,2117 458,2134 459,2113 459.9,2111 460.9,2124 461.8,2124 462.8,2116 463.7,2117 464.7,2114 465.6,2111 466.6,2123 467.5,2100 468.5,2121 469.4,2150 470.4,2126 471.3,2114 472.3,2150 473.2,2126 474.2,2132 475.1,2113 476.1,2135 477,2117 478,2139 478.9,2127 479.9,2129 480.8,2110 481.8,2127 482.7,2112 483.7,2140 484.6,2102 485.6,2114 486.5,2113 487.5,2125 488.4,2120 489.4,2117 490.3,2123 491.3,2130 492.2,2137 493.2,2140 494.1,2124 495.1,2137 496,2127 497,2141 497.9,2131 498.9,2135 499.8,2133 500.8,2136 501.7,2131 502.7,2141 503.6,2134 504.6,2133 505.5,2134 506.5,2143 507.4,2131 508.4,2164 509.3,2152 510.3,2130 511.2,2141 512.2,2159 513.1,2143 514.1,2132 515,2147 516,2155 516.9,2154 517.9,2165 518.8,2134 519.8,2148 520.7,2146 521.7,2147 522.6,2132 523.6,2158 524.5,2132 525.5,2149 526.4,2121 527.4,2142 528.3,2120 529.3,2140 530.2,2142 531.2,2149 532.1,2147 533.1,2157 534,2137 535,2154 535.9,2139 536.9,2152 537.8,2164 538.8,2157 539.7,2162 540.7,2149 541.6,2131 542.6,2144 543.5,2117 544.5,2154 545.4,2146 546.4,2142 547.3,2153 548.3,2145 549.2,2137 550.2,2159 551.1,2120 552.1,2153 553,2145 554,2153 554.9,2142 555.9,2156 556.8,2146 557.8,2156 558.7,2140 559.7,2179 560.6,2120 561.6,2149 562.5,2142 563.5,2156 564.4,2151 565.4,2160 566.3,2140 567.3,2156 568.2,2141 569.2,2143 570.1,2139 571.1,2143 572,2149 573,2144 573.9,2130 574.9,2146 575.8,2133 576.8,2134 577.7,2134 578.7,2144 579.6,2139 580.6,2166 581.5,2141 582.5,2134 583.4,2130 584.4,2135 585.3,2158 586.3,2148 587.2,2131 588.2,2168 589.1,2144 590.1,2148 591,2138 592,2145 592.9,2127 593.9,2117 594.8,2130 595.8,2153 596.7,2135 597.7,2131 598.6,2134 599.6,2130 600.5,2143 601.5,2140 602.4,2143 603.4,2142 604.3,2148 605.3,2133 606.2,2121 607.2,2129 608.1,2136 609.1,2139 610,2123 611,2144 611.9,2142 612.9,2144 613.8,2129 614.8,2115 615.7,2111 616.7,2132 617.6,2134 618.6,2135 619.5,2135 620.5,2146 621.4,2132 622.4,2149 623.3,2127 624.3,2144 625.2,2127 626.2,2134 627.1,2127 628.1,2135 629,2123 630,2146 630.9,2139 631.9,2138 632.8,2122 633.8,2144 634.7,2118 635.7,2132 636.6,2128 637.6,2134 638.5,2109 639.5,2153 640.4,2124 641.4,2143 642.3,2134 643.3,2127 644.2,2126 645.2,2131 646.1,2108 647.1,2128 648,2123 649,2140 649.9,2123 650.9,2151 651.8,2117 652.8,2114 653.7,2106 654.7,2131 655.6,2127 656.6,2133 657.5,2133 658.5,2132 659.4,2127 660.4,2145 661.3,2124 662.3,2135 663.2,2121 664.2,2136 665.1,2119 666.1,2127 667,2107 668,2133 668.9,2121 669.9,2128 670.8,2100 671.8,2103 672.7,2105 673.7,2099 674.6,2098 675.6,2133 676.5,2106 677.5,2120 678.4,2117 679.4,2107 680.3,2102 681.3,2109 682.2,2091 683.2,2113 684.1,2096 685.1,2116 686,2096 687,2116 687.9,2103 688.9,2112 689.8,2105 690.8,2115 691.7,2097 692.7,2113 693.6,2098 694.6,2101 695.5,2082 696.5,2105 697.4,2094 698.4,2116 699.3,2102 700.3,2118 701.2,2115 702.2,2123 703.1,2108 704.1,2116 705,2099 706,2123 706.9,2105 707.9,2125 708.8,2108 709.8,2121 710.7,2104 711.7,2120 712.6,2084 713.6,2098 714.5,2099 715.5,2116 716.4,2115 717.4,2125 718.3,2112 719.3,2126 720.2,2120 721.2,2132 722.1,2106 723.1,2123 724,2129 725,2133 725.9,2128 726.9,2132 727.8,2099 728.8,2119 729.7,2101 730.7,2124 731.6,2100 732.6,2121 733.5,2109 734.5,2126 735.4,2113 736.4,2122 737.3,2113 738.3,2126 739.2,2126 740.2,2125 741.1,2123 742.1,2124 743,2115 744,2123 744.9,2126 745.9,2127 746.8,2116 747.8,2108 748.7,2115 749.7,2121 750.6,2121 751.6,2113 752.5,2131 753.5,2137 754.4,2130 755.4,2128 756.3,2123 757.3,2113 758.2,2098 759.2,2119 760.1,2107 761.1,2118 762,2123 763,2123 763.9,2109 764.9,2121 765.8,2124 766.8,2115 767.7,2119 768.7,2126 769.6,2111 770.6,2113 771.5,2121 772.5,2105 773.4,2096 774.4,2093 775.3,2105 776.3,2102 777.2,2101 778.2,2117 779.1,2117 780.1,2124 781,2101 782,2086 782.9,2110 783.9,2108 784.8,2097 785.8,2112 786.7,2107 787.7,2120 788.6,2099 789.6,2107 790.5,2094 791.5,2112 792.4,2100 793.4,2113 794.3,2092 795.3,2106 796.2,2085 797.2,2100 798.1,2103 799.1,2104 800,2104 801,2113 801.9,2102 802.9,2107 803.8,2085 804.8,2113 805.7,2099 806.7,2099 807.6,2096 808.6,2101 809.5,2099 810.5,2098 811.4,2088 812.4,2105 813.3,2083 814.3,2098 815.2,2090 816.2,2100 817.1,2088 818.1,2121 819,2097 820,2108 820.9,2109 821.9,2108 822.8,2108 823.8,2111 824.7,2100 825.7,2097 826.6,2106 827.6,2115 828.5,2089 829.5,2109 830.4,2095 831.4,2102 832.3,2076 833.3,2092 834.2,2077 835.2,2112 836.1,2073 837.1,2091 838,2087 839,2108 839.9,2093 840.9,2070 841.8,2088 842.8,2096 843.7,2084 844.7,2097 845.6,2094 846.6,2119 847.5,2084 848.5,2102 849.4,2083 850.4,2114 851.3,2095 852.3,2091 853.2,2088 854.2,2107 855.1,2103 856.1,2108 857,2094 858,2117 858.9,2089 859.9,2103 860.8,2095 861.8,2106 862.7,2092 863.7,2115 864.6,2103 865.6,2122 866.5,2115 867.5,2109 868.4,2103 869.4,2106 870.3,2095 871.3,2107 872.2,2090 873.2,2104 874.1,2089 875.1,2115 876,2083 877,2104 877.9,2098 878.9,2110 879.8,2094 880.8,2106 881.7,2100 882.7,2112 883.6,2098 884.6,2106 885.5,2108 886.5,2122 887.4,2101 888.4,2116 889.3,2094 890.3,2114 891.2,2108 892.2,2099 893.1,2089 894.1,2107 895,2085 896,2099 896.9,2109 897.9,2125 898.8,2097 899.8,2103 900.7,2085 901.7,2114 902.6,2105 903.6,2111 904.5,2104 905.5,2113 906.4,2098 907.4,2097 908.3,2097 909.3,2099 910.2,2094 911.2,2096 912.1,2102 913.1,2100 914,2082 915,2096 915.9,2087 916.9,2094 917.8,2091 918.8,2109 919.7,2095 920.7,2119 921.6,2090 922.6,2101 923.5,2097 924.5,2095 925.4,2113 926.4,2091 927.3,2091 928.3,2120 929.2,2094 930.2,2103 931.1,2095 932.1,2102 933,2103 934,2093 934.9,2090 935.9,2109 936.8,2070 937.8,2089 938.7,2083 939.7,2106 940.6,2076 941.6,2099 942.5,2103 943.5,2116 944.4,2096 945.4,2136 946.3,2094 947.3,2101 948.2,2079 949.2,2090 950.1,2098 951.1,2117 952,2110 953,2103 953.9,2117 954.9,2114 955.8,2105 956.8,2119 957.7,2114 958.7,2092 959.6,2112 960.6,2133 961.5,2095 962.5,2107 963.4,2107 964.4,2128 965.3,2132 966.3,2116 967.2,2090 968.2,2123 969.1,2123 970.1,2137 971,2117 972,2145 972.9,2101 973.9,2142 974.8,2128 975.8,2122 976.7,2107 977.7,2117 978.6,2110 979.6,2126 980.5,2112 981.5,2132 982.4,2119 983.4,2112 984.3,2102 985.3,2124 986.2,2100 987.2,2114 988.1,2098 989.1,2113 990,2100 991,2107 991.9,2090 992.9,2117 993.8,2118 994.8,2106 995.7,2112 996.7,2121 997.6,2131 998.6,2128 999.5,2119 1000.5,2133 1001.4,2124 1002.4,2127 1003.3,2086 1004.3,2122 1005.2,2111 1006.2,2119 1007.1,2117 1008.1,2127 1009,2116 1010,2118 1010.9,2135 1011.9,2137 1012.8,2129 1013.8,2126 1014.7,2119 1015.7,2128 1016.6,2139 1017.6,2118 1018.5,2116 1019.5,2116 1020.4,2096 1021.4,2127 1022.3,2098 1023.3,2118 1024.2,2098 1025.2,2135 1026.1,2102 1027.1,2126 1028,2114 1029,2110 1029.9,2117 1030.9,2133 1031.8,2115 1032.8,2137 1033.7,2112 1034.7,2117 1035.6,2100 1036.6,2126 1037.5,2106 1038.5,2118 1039.4,2119 1040.4,2132 1041.3,2117 1042.3,2118 1043.2,2119 1044.2,2127 1045.1,2122 1046.1,2117 1047,2116 1048,2119 1048.9,2110 1049.9,2129 1050.8,2119 1051.8,2127 1052.7,2120 1053.7,2131 1054.6,2124 1055.6,2121 1056.5,2118 1057.5,2118 1058.4,2117 1059.4,2115 1060.3,2111 1061.3,2116 1062.2,2119 1063.2,2119 1064.1,2110 1065.1,2116 1066,2109 1067,2106 1067.9,2106 1068.9,2114 1069.8,2101 1070.8,2127 1071.7,2119 1072.7,2120 1073.6,2116 1074.6,2114 1075.5,2120 1076.5,2111 1077.4,2105 1078.4,2118 1079.3,2092 1080.3,2095 1081.2,2101 1082.2,2111 1083.1,2099 1084.1,2124 1085,2093 1086,2101 1086.9,2111 1087.9,2118 1088.8,2111 1089.8,2126 1090.7,2118 1091.7,2119 1092.6,2115 1093.6,2123 1094.5,2108 1095.5,2127 1096.4,2120 1097.4,2108 1098.3,2097 1099.3,2104 1100.2,2089 1101.2,2112 1102.1,2096 1103.1,2129 1104,2079 1105,2121 1105.9,2092 1106.9,2101 1107.8,2095 1108.8,2100 1109.7,2092 1110.7,2109 1111.6,2083 1112.6,2094 1113.5,2093 1114.5,2110 1115.4,2097 1116.4,2090 1117.3,2099 1118.3,2115 1119.2,2093 1120.2,2096 1121.1,2100 1122.1,2116 1123,2105 1124,2091 1124.9,2111 1125.9,2099 1126.8,2109 1127.8,2096 1128.7,2080 1129.7,2097 1130.6,2058 1131.6,2087 1132.5,2084 1133.5,2099 1134.4,2065 1135.4,2097 1136.3,2062 1137.3,2106 1138.2,2090 1139.2,2099 1140.1,2099 1141.1,2086 1142,2086 1143,2088 1143.9,2082 1144.9,2100 1145.8,2074 1146.8,2091 1147.7,2080 1148.7,2100 1149.6,2100 1150.6,2089 1151.5,2072 1152.5,2094 1153.4,2087 1154.4,2131 1155.3,2078 1156.3,2087 1157.2,2052 1158.2,2093 1159.1,2082 1160.1,2089 1161,2084 1162,2097 1162.9,2075 1163.9,2089 1164.8,2081 1165.8,2077 1166.7,2073 1167.7,2124 1168.6,2078 1169.6,2075 1170.5,2069 1171.5,2067 1172.4,2053 1173.4,2103 1174.3,2036 1175.3,2078 1176.2,2080 1177.2,2058 1178.1,2063 1179.1,2074 1180,2072 1181,2085 1181.9,2082 1182.9,2096 1183.8,2089 1184.8,2128 1185.7,2101 1186.7,2106 1187.6,2087 1188.6,2117 1189.5,2093 1190.5,2110 1191.4,2088 1192.4,2139 1193.3,2088 1194.3,2097 1195.2,2093 1196.2,2092 1197.1,2103 1198.1,2113 1199,2088 1200,2134 1200.9,2100 1201.9,2108 1202.8,2093 1203.8,2118 1204.7,2096 1205.7,2107 1206.6,2101 1207.6,2116 1208.5,2117 1209.5,2113 1210.4,2124 1211.4,2116 1212.3,2111 1213.3,2135 1214.2,2105 1215.2,2116 1216.1,2115 1217.1,2103 1218,2087 1219,2115 1219.9,2103 1220.9,2113 1221.8,2100 1222.8,2113 1223.7,2093 1224.7,2130 1225.6,2118 1226.6,2121 1227.5,2099 1228.5,2104 1229.4,2092 1230.4,2111 1231.3,2104 1232.3,2111 1233.2,2112 1234.2,2114 1235.1,2147 1236.1,2121 1237,2102 1238,2111 1238.9,2102 1239.9,2098 1240.8,2114 1241.8,2121 1242.7,2096 1243.7,2132 1244.6,2098 1245.6,2123 1246.5,2097 1247.5,2139 1248.4,2112 1249.4,2106 1250.3,2100 1251.3,2108 1252.2,2090 1253.2,2120 1254.1,2097 1255.1,2121 1256,2102 1257,2084 1257.9,2104 1258.9,2109 1259.8,2099 1260.8,2113 1261.7,2100 1262.7,2121 1263.6,2091 1264.6,2114 1265.5,2104 1266.5,2119 1267.4,2093 1268.4,2123 1269.3,2100 1270.3,2106 1271.2,2084 1272.2,2100 1273.1,2075 1274.1,2109 1275,2070 1276,2099 1276.9,2082 1277.9,2106 1278.8,2091 1279.8,2102 1280.7,2091 1281.7,2097 1282.6,2084 1283.6,2118 1284.5,2095 1285.5,2096 1286.4,2080 1287.4,2103 1288.3,2094 1289.3,2111 1290.2,2090 1291.2,2109 1292.1,2091 1293.1,2106 1294,2081 1295,2077 1295.9,2100 1296.9,2102 1297.8,2097 1298.8,2113 1299.7,2088 1300.7,2088 1301.6,2106 1302.6,2094 1303.5,2098 1304.5,2102 1305.4,2092 1306.4,2117 1307.3,2092 1308.3,2094 1309.2,2089 1310.2,2092 1311.1,2089 1312.1,2098 1313,2081 1314,2108 1314.9,2094 1315.9,2091 1316.8,2091 1317.8,2112 1318.7,2098 1319.7,2111 1320.6,2101 1321.6,2117 1322.5,2093 1323.5,2116 1324.4,2092 1325.4,2096 1326.3,2089 1327.3,2100 1328.2,2090 1329.2,2108 1330.1,2084 1331.1,2104 1332,2099 1333,2108 1333.9,2085 1334.9,2103 1335.8,2104 1336.8,2102 1337.7,2082 1338.7,2113 1339.6,2118 1340.6,2118 1341.5,2107 1342.5,2106 1343.4,2081 1344.4,2112 1345.3,2114 1346.3,2108 1347.2,2075 1348.2,2097 1349.1,2066 1350.1,2115 1351,2095 1352,2096 1352.9,2080 1353.9,2106 1354.8,2083 1355.8,2098 1356.7,2083 1357.7,2083 1358.6,2083 1359.6,2095 1360.5,2093 1361.5,2103 1362.4,2091 1363.4,2104 1364.3,2096 1365.3,2092 1366.2,2089 1367.2,2103 1368.1,2085 1369.1,2094 1370,2100 1371,2084 1371.9,2075 1372.9,2085 1373.8,2069 1374.8,2088 1375.7,2059 1376.7,2101 1377.6,2100 1378.6,2067 1379.5,2092 1380.5,2103 1381.4,2084 1382.4,2085 1383.3,2057 1384.3,2103 1385.2,2080 1386.2,2091 1387.1,2073 1388.1,2100 1389,2069 1390,2081 1390.9,2082 1391.9,2101 1392.8,2083 1393.8,2085 1394.7,2082 1395.7,2093 1396.6,2090 1397.6,2089 1398.5,2083 1399.5,2092 1400.4,2095 1401.4,2104 1402.3,2078 1403.3,2098 1404.2,2077 1405.2,2092 1406.1,2092 1407.1,2056 1408,2088 1409,2096 1409.9,2084 1410.9,2089 1411.8,2080 1412.8,2115 1413.7,2092 1414.7,2097 1415.6,2088 1416.6,2094 1417.5,2097 1418.5,2107 1419.4,2090 1420.4,2092 1421.3,2079 1422.3,2083 1423.2,2083 1424.2,2089 1425.1,2087 1426.1,2093 1427,2089 1428,2111 1428.9,2095 1429.9,2076 1430.8,2081 1431.8,2091 1432.7,2091 1433.7,2099 1434.6,2093 1435.6,2090 1436.5,2095 1437.5,2109 1438.4,2096 1439.4,2119 1440.3,2107 1441.3,2111 1442.2,2100 1443.2,2103 1444.1,2104 1445.1,2105 1446,2102 1447,2112 1447.9,2114 1448.9,2109 1449.8,2117 1450.8,2125 1451.7,2101 1452.7,2107 1453.6,2100 1454.6,2104 1455.5,2104 1456.5,2119 1457.4,2095 1458.4,2113 1459.3,2107 1460.3,2111 1461.2,2105 1462.2,2117 1463.1,2092 1464.1,2112 1465,2104 1466,2121 1466.9,2105 1467.9,2120 1468.8,2113 1469.8,2122 1470.7,2117 1471.7,2122 1472.6,2115 1473.6,2130 1474.5,2142 1475.5,2138 1476.4,2136 1477.4,2131 1478.3,2140 1479.3,2133 1480.2,2124 1481.2,2131 1482.1,2112 1483.1,2118 1484,2097 1485,2122 1485.9,2104 1486.9,2113 1487.8,2108 1488.8,2119 1489.7,2108 1490.7,2118 1491.6,2123 1492.6,2115 1493.5,2114 1494.5,2131 1495.4,2113 1496.4,2107 1497.3,2113 1498.3,2126 1499.2,2094 1500.2,2112 1501.1,2100 1502.1,2113 1503,2095 1504,2114 1504.9,2098 1505.9,2111 1506.8,2108 1507.8,2103 1508.7,2093 1509.7,2108 1510.6,2095 1511.6,2141 1512.5,2081 1513.5,2095 1514.4,2062 1515.4,2112 1516.3,2087 1517.3,2109 1518.2,2094 1519.2,2101 1520.1,2089 1521.1,2095 1522,2070 1523,2103 1523.9,2085 1524.9,2056 1525.8,2091 1526.8,2110 1527.7,2102 1528.7,2104 1529.6,2101 1530.6,2108 1531.5,2084 1532.5,2103 1533.4,2097 1534.4,2120 1535.3,2104 1536.3,2109 1537.2,2095 1538.2,2099 1539.1,2096 1540.1,2100 1541,2088 1542,2085 1542.9,2097 1543.9,2101 1544.8,2085 1545.8,2094 1546.7,2094 1547.7,2117 1548.6,2087 1549.6,2113 1550.5,2094 1551.5,2125 1552.4,2095 1553.4,2107 1554.3,2081 1555.3,2097 1556.2,2072 1557.2,2099 1558.1,2085 1559.1,2093 1560,2075 1561,2099 1561.9,2096 1562.9,2093 1563.8,2072 1564.8,2092 1565.7,2086 1566.7,2102 1567.6,2102 1568.6,2092 1569.5,2069 1570.5,2103 1571.4,2082 1572.4,2092 1573.3,2086 1574.3,2097 1575.2,2076 1576.2,2075 1577.1,2071 1578.1,2099 1579,2083 1580,2093 1580.9,2093 1581.9,2098 1582.8,2096 1583.8,2102 1584.7,2084 1585.7,2088 1586.6,2098 1587.6,2104 1588.5,2088 1589.5,2099 1590.4,2082 1591.4,2106 1592.3,2103 1593.3,2113 1594.2,2071 1595.2,2102 1596.1,2099 1597.1,2102 1598,2085 1599,2085 1599.9,2089 1600.9,2084 1601.8,2075 1602.8,2069 1603.7,2081 1604.7,2129 1605.6,2069 1606.6,2097 1607.5,2075 1608.5,2100 1609.4,2090 1610.4,2103 1611.3,2098 1612.3,2106 1613.2,2091 1614.2,2112 1615.1,2079 1616.1,2108 1617,2081 1618,2077 1618.9,2075 1619.9,2088 1620.8,2072 1621.8,2089 1622.7,2085 1623.7,2103 1624.6,2091 1625.6,2093 1626.5,2112 1627.5,2113 1628.4,2092 1629.4,2095 1630.3,2087 1631.3,2106 1632.2,2064 1633.2,2106 1634.1,2094 1635.1,2106 1636,2087 1637,2113 1637.9,2110 1638.9,2111 1639.8,2096 1640.8,2117 1641.7,2067 1642.7,2111 1643.6,2091 1644.6,2106 1645.5,2097 1646.5,2116 1647.4,2078 1648.4,2107 1649.3,2092 1650.3,2113 1651.2,2100 1652.2,2102 1653.1,2098 1654.1,2106 1655,2093 1656,2113 1656.9,2094 1657.9,2101 1658.8,2094 1659.8,2102 1660.7,2094 1661.7,2107 1662.6,2097 1663.6,2116 1664.5,2114 1665.5,2111 1666.4,2106 1667.4,2111 1668.3,2095 1669.3,2126 1670.2,2097 1671.2,2120 1672.1,2099 1673.1,2121 1674,2094 1675,2110 1675.9,2102 1676.9,2107 1677.8,2100 1678.8,2119 1679.7,2108 1680.7,2113 1681.6,2097 1682.6,2098 1683.5,2099 1684.5,2111 1685.4,2089 1686.4,2105 1687.3,2094 1688.3,2101 1689.2,2110 1690.2,2108 1691.1,2108 1692.1,2105 1693,2094 1694,2123 1694.9,2093 1695.9,2110 1696.8,2092 1697.8,2100 1698.7,2094 1699.7,2103 1700.6,2103 1701.6,2106 1702.5,2087 1703.5,2116 1704.4,2123 1705.4,2097 1706.3,2096 1707.3,2110 1708.2,2085 1709.2,2109 1710.1,2087 1711.1,2101 1712,2093 1713,2099 1713.9,2097 1714.9,2121 1715.8,2102 1716.8,2119 1717.7,2095 1718.7,2109 1719.6,2116 1720.6,2109 1721.5,2094 1722.5,2108 1723.4,2107 1724.4,2122 1725.3,2117 1726.3,2114 1727.2,2118 1728.2,2122 1729.1,2097 1730.1,2112 1731,2117 1732,2123 1732.9,2102 1733.9,2118 1734.8,2112 1735.8,2113 1736.7,2094 1737.7,2104 1738.6,2100 1739.6,2120 1740.5,2117 1741.5,2107 1742.4,2105 1743.4,2117 1744.3,2103 1745.3,2096 1746.2,2101 1747.2,2092 1748.1,2094 1749.1,2127 1750,2118 1751,2108 1751.9,2095 1752.9,2081 1753.8,2086 1754.8,2113 1755.7,2083 1756.7,2135 1757.6,2091 1758.6,2104 1759.5,2099 1760.5,2118 1761.4,2100 1762.4,2117 1763.3,2101 1764.3,2111 1765.2,2115 1766.2,2120 1767.1,2117 1768.1,2126 1769,2112 1770,2105 1770.9,2117 1771.9,2124 1772.8,2128 1773.8,2133 1774.7,2131 1775.7,2111 1776.6,2099 1777.6,2122 1778.5,2118 1779.5,2127 1780.4,2125 1781.4,2132 1782.3,2111 1783.3,2135 1784.2,2128 1785.2,2139 1786.1,2134 1787.1,2135 1788,2102 1789,2118 1789.9,2115 1790.9,2132 1791.8,2125 1792.8,2116 1793.7,2115 1794.7,2127 1795.6,2127 1796.6,2141 1797.5,2126 1798.5,2140 1799.4,2130 1800.4,2143 1801.3,2133 1802.3,2154 1803.2,2126 1804.2,2139 1805.1,2134 1806.1,2136 1807,2130 1808,2132 1808.9,2139 1809.9,2148 1810.8,2120 1811.8,2137 1812.7,2115 1813.7,2114 1814.6,2117 1815.6,2137 1816.5,2118 1817.5,2122 1818.4,2112 1819.4,2123 1820.3,2117 1821.3,2122 1822.2,2128 1823.2,2119 1824.1,2118 1825.1,2112 1826,2104 1827,2116 1827.9,2099 1828.9,2115 1829.8,2098 1830.8,2115 1831.7,2092 1832.7,2097 1833.6,2064 1834.6,2097 1835.5,2089 1836.5,2093 1837.4,2091 1838.4,2103 1839.3,2091 1840.3,2093 1841.2,2099 1842.2,2099 1843.1,2086 1844.1,2092 1845,2081 1846,2099 1846.9,2074 1847.9,2072 1848.8,2085 1849.8,2089 1850.7,2064 1851.7,2088 1852.6,2069 1853.6,2090 1854.5,2048 1855.5,2087 1856.4,2083 1857.4,2082 1858.3,2075 1859.3,2078 1860.2,2069 1861.2,2088 1862.1,2056 1863.1,2058 1864,2058 1865,2061 1865.9,2042 1866.9,2061 1867.8,2068 1868.8,2070 1869.7,2065 1870.7,2073 1871.6,2067 1872.6,2083 1873.5,2063 1874.5,2087 1875.4,2076 1876.4,2071 1877.3,2069 1878.3,2073 1879.2,2068 1880.2,2083 1881.1,2083 1882.1,2084 1883,2076 1884,2081 1884.9,2071 1885.9,2090 1886.8,2079 1887.8,2093 1888.7,2082 1889.7,2082 1890.6,2088 1891.6,2106 1892.5,2093 1893.5,2111 1894.4,2111 1895.4,2115 1896.3,2102 1897.3,2106 1898.2,2097 1899.2,2115 1900.1,2100 1901.1,2097 1902,2094 1903,2104 1903.9,2099 1904.9,2104 1905.8,2103 1906.8,2101 1907.7,2110 1908.7,2115 1909.6,2101 1910.6,2107 1911.5,2098 1912.5,2128 1913.4,2124 1914.4,2109 1915.3,2105 1916.3,2099 1917.2,2084 1918.2,2122 1919.1,2103 1920.1,2106 1921,2109 1922,2101 1922.9,2102 1923.9,2123 1924.8,2107 1925.8,2126 1926.7,2090 1927.7,2110 1928.6,2110 1929.6,2115 1930.5,2096 1931.5,2114 1932.4,2099 1933.4,2104 1934.3,2115 1935.3,2105 1936.2,2125 1937.2,2120 1938.1,2110 1939.1,2117 1940,2111 1941,2102 1941.9,2113 1942.9,2125 1943.8,2128 1944.8,2114 1945.7,2112 1946.7,2106 1947.6,2118 1948.6,2120 1949.5,2114 1950.5,2116 1951.4,2105 1952.4,2122 1953.3,2105 1954.3,2121 1955.2,2115 1956.2,2121 1957.1,2120 1958.1,2110 1959,2110 1960,2119 1960.9,2124 1961.9,2120 1962.8,2099 1963.8,2125 1964.7,2089 1965.7,2099 1966.6,2110 1967.6,2143 1968.5,2112 1969.5,2127 1970.4,2121 1971.4,2142 1972.3,2121 1973.3,2120 1974.2,2102 1975.2,2115 1976.1,2106 1977.1,2132 1978,2087 1979,2127 1979.9,2113 1980.9,2121 1981.8,2115 1982.8,2126 1983.7,2122 1984.7,2130 1985.6,2127 1986.6,2124 1987.5,2108 1988.5,2146 1989.4,2123 1990.4,2118 1991.3,2115 1992.3,2139 1993.2,2114 1994.2,2139 1995.1,2110 1996.1,2132 1997,2124 1998,2142 1998.9,2115 1999.9,2141 2000.8,2129 2001.8,2145 2002.7,2125 2003.7,2119 2004.6,2119 2005.6,2118 2006.5,2103 2007.5,2120 2008.4,2097 2009.4,2113 2010.3,2108 2011.3,2141 2012.2,2106 2013.2,2113 2014.1,2108 2015.1,2115 2016,2117 2017,2120 2017.9,2127 2018.9,2138 2019.8,2113 2020.8,2125 2021.7,2120 2022.7,2163 2023.6,2101 2024.6,2123 2025.5,2099 2026.5,2115 2027.4,2091 2028.4,2109 2029.3,2074 2030.3,2106 2031.2,2128 2032.2,2103 2033.1,2073 2034.1,2122 2035,2100 2036,2117 2036.9,2104 2037.9,2113 2038.8,2107 2039.8,2115 2040.7,2110 2041.7,2112 2042.6,2100 2043.6,2104 2044.5,2130 2045.5,2129 2046.4,2106 2047.4,2113 2048.3,2089 2049.3,2106 2050.2,2105 2051.2,2106 2052.1,2115 2053.1,2127 2054,2101 2055,2115 2055.9,2107 2056.9,2122 2057.8,2110 2058.8,2130 2059.7,2101 2060.7,2135 2061.6,2121 2062.6,2117 2063.5,2113 2064.5,2103 2065.4,2094 2066.4,2124 2067.3,2106 2068.3,2109 2069.2,2091 2070.2,2117 2071.1,2100 2072.1,2108 2073,2109 2074,2099 2074.9,2099 2075.9,2112 2076.8,2095 2077.8,2143 2078.7,2105 2079.7,2135 2080.6,2095 2081.6,2123 2082.5,2101 2083.5,2112 2084.4,2106 2085.4,2102 2086.3,2108 2087.3,2113 2088.2,2104 2089.2,2116 2090.1,2104 2091.1,2110 2092,2099 2093,2118 2093.9,2109 2094.9,2127 2095.8,2115 2096.8,2111 2097.7,2121 2098.7,2122 2099.6,2120 2100.6,2119 2101.5,2118 2102.5,2132 2103.4,2117 2104.4,2141 2105.3,2105 2106.3,2119 2107.2,2117 2108.2,2125 2109.1,2096 2110.1,2112 2111,2105 2112,2105 2112.9,2097 2113.9,2105" fill="none" stroke="#3ee6e0" stroke-width="1.60" stroke-linejoin="round"/><rect x="2177.5" y="56.3" width="34.3" height="935.7" fill="url(#cbA)" stroke="#9a9a9a" stroke-width="1.5"/><rect x="2177.6" y="1256.3" width="39.1" height="939.7" fill="url(#cbB)" stroke="#9a9a9a" stroke-width="1.5"/><line x1="2201.8" x2="2211.8" y1="136.2" y2="136.2" stroke="#555" stroke-width="1.3"/><line x1="2201.8" x2="2211.8" y1="269.3" y2="269.3" stroke="#555" stroke-width="1.3"/><line x1="2201.8" x2="2211.8" y1="402.4" y2="402.4" stroke="#555" stroke-width="1.3"/><line x1="2201.8" x2="2211.8" y1="535.5" y2="535.5" stroke="#555" stroke-width="1.3"/><line x1="2201.8" x2="2211.8" y1="668.6" y2="668.6" stroke="#555" stroke-width="1.3"/><line x1="2201.8" x2="2211.8" y1="801.7" y2="801.7" stroke="#555" stroke-width="1.3"/><line x1="2201.8" x2="2211.8" y1="934.8" y2="934.8" stroke="#555" stroke-width="1.3"/><line x1="2206.7" x2="2216.7" y1="1314.4" y2="1314.4" stroke="#555" stroke-width="1.3"/><line x1="2206.7" x2="2216.7" y1="1435.0" y2="1435.0" stroke="#555" stroke-width="1.3"/><line x1="2206.7" x2="2216.7" y1="1555.5" y2="1555.5" stroke="#555" stroke-width="1.3"/><line x1="2206.7" x2="2216.7" y1="1676.1" y2="1676.1" stroke="#555" stroke-width="1.3"/><line x1="2206.7" x2="2216.7" y1="1796.6" y2="1796.6" stroke="#555" stroke-width="1.3"/><line x1="2206.7" x2="2216.7" y1="1917.2" y2="1917.2" stroke="#555" stroke-width="1.3"/><line x1="2206.7" x2="2216.7" y1="2037.7" y2="2037.7" stroke="#555" stroke-width="1.3"/><line x1="2206.7" x2="2216.7" y1="2158.2" y2="2158.2" stroke="#555" stroke-width="1.3"/><line x1="281.0" x2="293.0" y1="56.3" y2="56.3" stroke="#444" stroke-width="1.2" opacity="0.6"/><line x1="281.0" x2="293.0" y1="337.4" y2="337.4" stroke="#444" stroke-width="1.2" opacity="0.6"/><line x1="281.0" x2="293.0" y1="618.4" y2="618.4" stroke="#444" stroke-width="1.2" opacity="0.6"/><line x1="281.0" x2="293.0" y1="899.5" y2="899.5" stroke="#444" stroke-width="1.2" opacity="0.6"/><text x="266.3" y="76.5" font-family="'Liberation Sans', Arial, sans-serif" font-size="53.2" font-weight="bold" fill="#262626" text-anchor="end">1566</text><text x="266.3" y="357.6" font-family="'Liberation Sans', Arial, sans-serif" font-size="53.2" font-weight="bold" fill="#262626" text-anchor="end">1560</text><text x="266.3" y="638.6" font-family="'Liberation Sans', Arial, sans-serif" font-size="53.2" font-weight="bold" fill="#262626" text-anchor="end">1554</text><text x="266.3" y="919.7" font-family="'Liberation Sans', Arial, sans-serif" font-size="53.2" font-weight="bold" fill="#262626" text-anchor="end">1548</text><text x="580.6" y="1061.5" font-family="'Liberation Sans', Arial, sans-serif" font-size="52.5" font-weight="bold" fill="#262626" text-anchor="middle">500</text><text x="880.8" y="1061.5" font-family="'Liberation Sans', Arial, sans-serif" font-size="52.5" font-weight="bold" fill="#262626" text-anchor="middle">1000</text><text x="1181.0" y="1061.5" font-family="'Liberation Sans', Arial, sans-serif" font-size="52.5" font-weight="bold" fill="#262626" text-anchor="middle">1500</text><text x="1481.2" y="1061.5" font-family="'Liberation Sans', Arial, sans-serif" font-size="52.5" font-weight="bold" fill="#262626" text-anchor="middle">2000</text><text x="1781.4" y="1061.5" font-family="'Liberation Sans', Arial, sans-serif" font-size="52.5" font-weight="bold" fill="#262626" text-anchor="middle">2500</text><text x="2081.6" y="1061.5" font-family="'Liberation Sans', Arial, sans-serif" font-size="52.5" font-weight="bold" fill="#262626" text-anchor="middle">3000</text><text x="1204.5" y="1130.3" font-family="'Liberation Sans', Arial, sans-serif" font-size="57.2" font-weight="bold" fill="#262626" text-anchor="middle">Roundtrip number</text><text x="0.0" y="0.0" font-family="'Liberation Sans', Arial, sans-serif" font-size="57.7" font-weight="bold" fill="#262626" text-anchor="middle" transform="translate(133.0 525.6) rotate(-90)">Wavelength (nm)</text><text x="2224.0" y="153.7" font-family="'Liberation Sans', Arial, sans-serif" font-size="46.6" font-weight="bold" fill="#262626" text-anchor="start">1.2</text><text x="2224.0" y="286.8" font-family="'Liberation Sans', Arial, sans-serif" font-size="46.6" font-weight="bold" fill="#262626" text-anchor="start">1</text><text x="2224.0" y="419.9" font-family="'Liberation Sans', Arial, sans-serif" font-size="46.6" font-weight="bold" fill="#262626" text-anchor="start">0.8</text><text x="2224.0" y="553.0" font-family="'Liberation Sans', Arial, sans-serif" font-size="46.6" font-weight="bold" fill="#262626" text-anchor="start">0.6</text><text x="2224.0" y="686.1" font-family="'Liberation Sans', Arial, sans-serif" font-size="46.6" font-weight="bold" fill="#262626" text-anchor="start">0.4</text><text x="2224.0" y="819.2" font-family="'Liberation Sans', Arial, sans-serif" font-size="46.6" font-weight="bold" fill="#262626" text-anchor="start">0.2</text><text x="2224.0" y="952.3" font-family="'Liberation Sans', Arial, sans-serif" font-size="46.6" font-weight="bold" fill="#262626" text-anchor="start">0</text><text x="263.2" y="1277.6" font-family="'Liberation Sans', Arial, sans-serif" font-size="56.3" font-weight="bold" fill="#262626" text-anchor="end">1567.5</text><text x="263.2" y="1512.5" font-family="'Liberation Sans', Arial, sans-serif" font-size="56.3" font-weight="bold" fill="#262626" text-anchor="end">1561.5</text><text x="263.2" y="1747.4" font-family="'Liberation Sans', Arial, sans-serif" font-size="56.3" font-weight="bold" fill="#262626" text-anchor="end">1555.5</text><text x="263.2" y="1982.3" font-family="'Liberation Sans', Arial, sans-serif" font-size="56.3" font-weight="bold" fill="#262626" text-anchor="end">1549.5</text><text x="263.2" y="2217.2" font-family="'Liberation Sans', Arial, sans-serif" font-size="56.3" font-weight="bold" fill="#262626" text-anchor="end">1543.5</text><text x="577.0" y="2267.5" font-family="'Liberation Sans', Arial, sans-serif" font-size="56.0" font-weight="bold" fill="#262626" text-anchor="middle">500</text><text x="877.1" y="2267.5" font-family="'Liberation Sans', Arial, sans-serif" font-size="56.0" font-weight="bold" fill="#262626" text-anchor="middle">1000</text><text x="1177.2" y="2267.5" font-family="'Liberation Sans', Arial, sans-serif" font-size="56.0" font-weight="bold" fill="#262626" text-anchor="middle">1500</text><text x="1477.2" y="2267.5" font-family="'Liberation Sans', Arial, sans-serif" font-size="56.0" font-weight="bold" fill="#262626" text-anchor="middle">2000</text><text x="1777.2" y="2267.5" font-family="'Liberation Sans', Arial, sans-serif" font-size="56.0" font-weight="bold" fill="#262626" text-anchor="middle">2500</text><text x="2077.3" y="2267.5" font-family="'Liberation Sans', Arial, sans-serif" font-size="56.0" font-weight="bold" fill="#262626" text-anchor="middle">3000</text><text x="1201.0" y="2345.0" font-family="'Liberation Sans', Arial, sans-serif" font-size="61.6" font-weight="bold" fill="#262626" text-anchor="middle">Roundtrip number</text><text x="0.0" y="0.0" font-family="'Liberation Sans', Arial, sans-serif" font-size="61.7" font-weight="bold" fill="#262626" text-anchor="middle" transform="translate(68.8 1721.6) rotate(-90)">Wavelength (nm)</text><text x="2230.8" y="1332.0" font-family="'Liberation Sans', Arial, sans-serif" font-size="49.6" font-weight="bold" fill="#262626" text-anchor="start">1.4</text><text x="2230.8" y="1452.5" font-family="'Liberation Sans', Arial, sans-serif" font-size="49.6" font-weight="bold" fill="#262626" text-anchor="start">1.2</text><text x="2230.8" y="1573.1" font-family="'Liberation Sans', Arial, sans-serif" font-size="49.6" font-weight="bold" fill="#262626" text-anchor="start">1</text><text x="2230.8" y="1693.7" font-family="'Liberation Sans', Arial, sans-serif" font-size="49.6" font-weight="bold" fill="#262626" text-anchor="start">0.8</text><text x="2230.8" y="1814.2" font-family="'Liberation Sans', Arial, sans-serif" font-size="49.6" font-weight="bold" fill="#262626" text-anchor="start">0.6</text><text x="2230.8" y="1934.8" font-family="'Liberation Sans', Arial, sans-serif" font-size="49.6" font-weight="bold" fill="#262626" text-anchor="start">0.4</text><text x="2230.8" y="2055.3" font-family="'Liberation Sans', Arial, sans-serif" font-size="49.6" font-weight="bold" fill="#262626" text-anchor="start">0.2</text><text x="2230.8" y="2175.8" font-family="'Liberation Sans', Arial, sans-serif" font-size="49.6" font-weight="bold" fill="#262626" text-anchor="start">0</text><text x="327.0" y="148.9" font-family="'Liberation Serif', 'Times New Roman', serif" font-size="105.5" font-weight="bold" fill="#ffffff" text-anchor="start">(a)</text><text x="324.6" y="1364.8" font-family="'Liberation Serif', 'Times New Roman', serif" font-size="105.5" font-weight="bold" fill="#ffffff" text-anchor="start">(b)</text></svg></body></html>
